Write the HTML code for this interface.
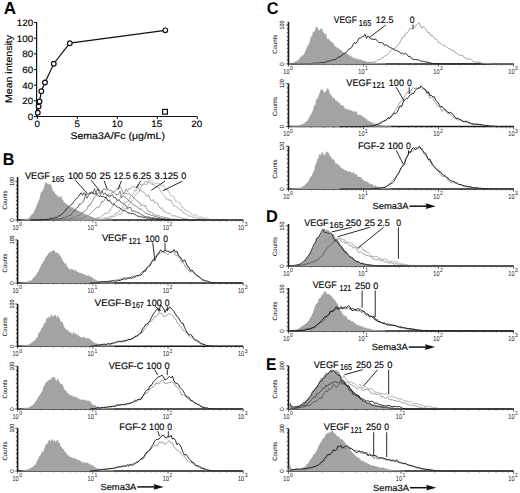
<!DOCTYPE html>
<html><head><meta charset="utf-8"><style>
html,body{margin:0;padding:0;background:#fff;}
svg{display:block;}
text{font-family:"Liberation Sans", sans-serif;text-rendering:geometricPrecision;}
</style></head><body>
<svg width="520" height="493" viewBox="0 0 520 493">
<rect width="520" height="493" fill="#fff"/>
<text x="3.7" y="13.9" font-size="17.3" font-weight="bold" fill="#000" textLength="12.3" lengthAdjust="spacingAndGlyphs">A</text>
<line x1="36.6" y1="22" x2="36.6" y2="117.1" stroke="#111" stroke-width="1.2"/>
<line x1="36" y1="116.5" x2="197.2" y2="116.5" stroke="#111" stroke-width="1.2"/>
<line x1="34" y1="116.5" x2="36.6" y2="116.5" stroke="#111" stroke-width="1.1"/>
<text x="33.2" y="120" font-size="9.3" stroke="#111" stroke-width="0.16" text-anchor="end" textLength="5.45" lengthAdjust="spacingAndGlyphs">0</text>
<line x1="34" y1="100.83" x2="36.6" y2="100.83" stroke="#111" stroke-width="1.1"/>
<text x="33.2" y="104.33" font-size="9.3" stroke="#111" stroke-width="0.16" text-anchor="end" textLength="10.9" lengthAdjust="spacingAndGlyphs">20</text>
<line x1="34" y1="85.17" x2="36.6" y2="85.17" stroke="#111" stroke-width="1.1"/>
<text x="33.2" y="88.67" font-size="9.3" stroke="#111" stroke-width="0.16" text-anchor="end" textLength="10.9" lengthAdjust="spacingAndGlyphs">40</text>
<line x1="34" y1="69.5" x2="36.6" y2="69.5" stroke="#111" stroke-width="1.1"/>
<text x="33.2" y="73" font-size="9.3" stroke="#111" stroke-width="0.16" text-anchor="end" textLength="10.9" lengthAdjust="spacingAndGlyphs">60</text>
<line x1="34" y1="53.84" x2="36.6" y2="53.84" stroke="#111" stroke-width="1.1"/>
<text x="33.2" y="57.34" font-size="9.3" stroke="#111" stroke-width="0.16" text-anchor="end" textLength="10.9" lengthAdjust="spacingAndGlyphs">80</text>
<line x1="34" y1="38.17" x2="36.6" y2="38.17" stroke="#111" stroke-width="1.1"/>
<text x="33.2" y="41.67" font-size="9.3" stroke="#111" stroke-width="0.16" text-anchor="end" textLength="16.35" lengthAdjust="spacingAndGlyphs">100</text>
<line x1="34" y1="22.5" x2="36.6" y2="22.5" stroke="#111" stroke-width="1.1"/>
<text x="33.2" y="26" font-size="9.3" stroke="#111" stroke-width="0.16" text-anchor="end" textLength="16.35" lengthAdjust="spacingAndGlyphs">120</text>
<line x1="37.3" y1="116.5" x2="37.3" y2="118.9" stroke="#111" stroke-width="1.1"/>
<text x="37.3" y="127.4" font-size="9.3" stroke="#111" stroke-width="0.16" text-anchor="middle" textLength="5.45" lengthAdjust="spacingAndGlyphs">0</text>
<line x1="77.3" y1="116.5" x2="77.3" y2="118.9" stroke="#111" stroke-width="1.1"/>
<text x="77.3" y="127.4" font-size="9.3" stroke="#111" stroke-width="0.16" text-anchor="middle" textLength="5.45" lengthAdjust="spacingAndGlyphs">5</text>
<line x1="117.3" y1="116.5" x2="117.3" y2="118.9" stroke="#111" stroke-width="1.1"/>
<text x="117.3" y="127.4" font-size="9.3" stroke="#111" stroke-width="0.16" text-anchor="middle" textLength="10.9" lengthAdjust="spacingAndGlyphs">10</text>
<line x1="157.3" y1="116.5" x2="157.3" y2="118.9" stroke="#111" stroke-width="1.1"/>
<text x="156.8" y="127.4" font-size="9.3" stroke="#111" stroke-width="0.16" text-anchor="middle" textLength="10.9" lengthAdjust="spacingAndGlyphs">15</text>
<line x1="197.3" y1="116.5" x2="197.3" y2="118.9" stroke="#111" stroke-width="1.1"/>
<text x="196.8" y="127.4" font-size="9.3" stroke="#111" stroke-width="0.16" text-anchor="middle" textLength="10.9" lengthAdjust="spacingAndGlyphs">20</text>
<text x="12.2" y="69" font-size="9.5" stroke="#111" stroke-width="0.16" text-anchor="middle" textLength="68" lengthAdjust="spacingAndGlyphs" transform="rotate(-90 12.2 69)">Mean intensity</text>
<text x="70.4" y="138.8" font-size="9.6" stroke="#111" stroke-width="0.16" textLength="94.6" lengthAdjust="spacingAndGlyphs">Sema3A/Fc (&#956;g/mL)</text>
<polyline points="37.78,112.82 38.58,106.4 39.54,101.38 41.3,91.2 44.98,82.5 53.78,63.71 69.78,43.18 165.3,30.34" fill="none" stroke="#111" stroke-width="1.2"/>
<circle cx="37.78" cy="112.82" r="2.35" fill="#fff" stroke="#111" stroke-width="1.2"/>
<circle cx="38.58" cy="106.4" r="2.35" fill="#fff" stroke="#111" stroke-width="1.2"/>
<circle cx="39.54" cy="101.38" r="2.35" fill="#fff" stroke="#111" stroke-width="1.2"/>
<circle cx="41.3" cy="91.2" r="2.35" fill="#fff" stroke="#111" stroke-width="1.2"/>
<circle cx="44.98" cy="82.5" r="2.35" fill="#fff" stroke="#111" stroke-width="1.2"/>
<circle cx="53.78" cy="63.71" r="2.35" fill="#fff" stroke="#111" stroke-width="1.2"/>
<circle cx="69.78" cy="43.18" r="2.35" fill="#fff" stroke="#111" stroke-width="1.2"/>
<circle cx="165.3" cy="30.34" r="2.35" fill="#fff" stroke="#111" stroke-width="1.2"/>
<rect x="162.6" y="109.4" width="4.8" height="4.8" fill="#fff" stroke="#111" stroke-width="1.2"/>
<text x="2.8" y="164.6" font-size="17" font-weight="bold" fill="#000" textLength="11.6" lengthAdjust="spacingAndGlyphs">B</text>
<line x1="17.6" y1="177.1" x2="17.6" y2="220.6" stroke="#1a1a1a" stroke-width="1.6"/>
<line x1="15.2" y1="220" x2="17.6" y2="220" stroke="#222" stroke-width="0.8"/>
<line x1="15.9" y1="216.14" x2="17.6" y2="216.14" stroke="#222" stroke-width="0.8"/>
<line x1="15.9" y1="212.28" x2="17.6" y2="212.28" stroke="#222" stroke-width="0.8"/>
<line x1="15.9" y1="208.42" x2="17.6" y2="208.42" stroke="#222" stroke-width="0.8"/>
<line x1="15.9" y1="204.56" x2="17.6" y2="204.56" stroke="#222" stroke-width="0.8"/>
<line x1="15.9" y1="200.7" x2="17.6" y2="200.7" stroke="#222" stroke-width="0.8"/>
<line x1="15.9" y1="196.84" x2="17.6" y2="196.84" stroke="#222" stroke-width="0.8"/>
<line x1="15.9" y1="192.98" x2="17.6" y2="192.98" stroke="#222" stroke-width="0.8"/>
<line x1="15.9" y1="189.12" x2="17.6" y2="189.12" stroke="#222" stroke-width="0.8"/>
<line x1="15.9" y1="185.26" x2="17.6" y2="185.26" stroke="#222" stroke-width="0.8"/>
<line x1="15.2" y1="181.4" x2="17.6" y2="181.4" stroke="#222" stroke-width="0.8"/>
<line x1="17" y1="220" x2="243.2" y2="220" stroke="#1a1a1a" stroke-width="1.5"/>
<line x1="17.6" y1="220" x2="17.6" y2="222.6" stroke="#333" stroke-width="0.8"/>
<line x1="40.24" y1="220" x2="40.24" y2="221.6" stroke="#444" stroke-width="0.6"/>
<line x1="53.48" y1="220" x2="53.48" y2="221.6" stroke="#444" stroke-width="0.6"/>
<line x1="62.87" y1="220" x2="62.87" y2="221.6" stroke="#444" stroke-width="0.6"/>
<line x1="70.16" y1="220" x2="70.16" y2="221.6" stroke="#444" stroke-width="0.6"/>
<line x1="76.12" y1="220" x2="76.12" y2="221.6" stroke="#444" stroke-width="0.6"/>
<line x1="81.15" y1="220" x2="81.15" y2="221.6" stroke="#444" stroke-width="0.6"/>
<line x1="85.51" y1="220" x2="85.51" y2="221.6" stroke="#444" stroke-width="0.6"/>
<line x1="89.36" y1="220" x2="89.36" y2="221.6" stroke="#444" stroke-width="0.6"/>
<line x1="92.8" y1="220" x2="92.8" y2="222.6" stroke="#333" stroke-width="0.8"/>
<line x1="115.44" y1="220" x2="115.44" y2="221.6" stroke="#444" stroke-width="0.6"/>
<line x1="128.68" y1="220" x2="128.68" y2="221.6" stroke="#444" stroke-width="0.6"/>
<line x1="138.07" y1="220" x2="138.07" y2="221.6" stroke="#444" stroke-width="0.6"/>
<line x1="145.36" y1="220" x2="145.36" y2="221.6" stroke="#444" stroke-width="0.6"/>
<line x1="151.32" y1="220" x2="151.32" y2="221.6" stroke="#444" stroke-width="0.6"/>
<line x1="156.35" y1="220" x2="156.35" y2="221.6" stroke="#444" stroke-width="0.6"/>
<line x1="160.71" y1="220" x2="160.71" y2="221.6" stroke="#444" stroke-width="0.6"/>
<line x1="164.56" y1="220" x2="164.56" y2="221.6" stroke="#444" stroke-width="0.6"/>
<line x1="168" y1="220" x2="168" y2="222.6" stroke="#333" stroke-width="0.8"/>
<line x1="190.64" y1="220" x2="190.64" y2="221.6" stroke="#444" stroke-width="0.6"/>
<line x1="203.88" y1="220" x2="203.88" y2="221.6" stroke="#444" stroke-width="0.6"/>
<line x1="213.27" y1="220" x2="213.27" y2="221.6" stroke="#444" stroke-width="0.6"/>
<line x1="220.56" y1="220" x2="220.56" y2="221.6" stroke="#444" stroke-width="0.6"/>
<line x1="226.52" y1="220" x2="226.52" y2="221.6" stroke="#444" stroke-width="0.6"/>
<line x1="231.55" y1="220" x2="231.55" y2="221.6" stroke="#444" stroke-width="0.6"/>
<line x1="235.91" y1="220" x2="235.91" y2="221.6" stroke="#444" stroke-width="0.6"/>
<line x1="239.76" y1="220" x2="239.76" y2="221.6" stroke="#444" stroke-width="0.6"/>
<line x1="243.2" y1="220" x2="243.2" y2="222.6" stroke="#333" stroke-width="0.8"/>
<text x="12.4" y="229.7" font-size="7.2" fill="#222" textLength="6.2" lengthAdjust="spacingAndGlyphs">10</text>
<text x="19.2" y="226.2" font-size="6.2" fill="#222" textLength="2.8" lengthAdjust="spacingAndGlyphs">0</text>
<text x="87.6" y="229.7" font-size="7.2" fill="#222" textLength="6.2" lengthAdjust="spacingAndGlyphs">10</text>
<text x="94.4" y="226.2" font-size="6.2" fill="#222" textLength="2.8" lengthAdjust="spacingAndGlyphs">1</text>
<text x="162.8" y="229.7" font-size="7.2" fill="#222" textLength="6.2" lengthAdjust="spacingAndGlyphs">10</text>
<text x="169.6" y="226.2" font-size="6.2" fill="#222" textLength="2.8" lengthAdjust="spacingAndGlyphs">2</text>
<text x="238" y="229.7" font-size="7.2" fill="#222" textLength="6.2" lengthAdjust="spacingAndGlyphs">10</text>
<text x="244.8" y="226.2" font-size="6.2" fill="#222" textLength="2.8" lengthAdjust="spacingAndGlyphs">3</text>
<text x="13.9" y="220" font-size="6.2" text-anchor="middle" transform="rotate(-90 13.9 220)">0</text>
<text x="13.9" y="181.4" font-size="6.2" text-anchor="middle" textLength="8.8" lengthAdjust="spacingAndGlyphs" transform="rotate(-90 13.9 181.4)">100</text>
<text x="7.2" y="200.05" font-size="6.3" text-anchor="middle" textLength="19" lengthAdjust="spacingAndGlyphs" transform="rotate(-90 7.2 200.05)">Counts</text>
<polygon points="22,220 22,220 23,220 24,220 25,219.79 26,219.27 27,218.78 28,218.61 29,218.2 30,217 31,215.78 32,214.35 33,213.99 34,212.5 35,209.64 36,207.81 37,204.86 38,202.57 39,200.55 40,197.83 41,192.52 42,192.44 43,190.27 44,188.19 45,184.17 46,182.21 47,183.52 48,184.57 49,184.46 50,184.25 51,185.07 52,188.16 53,192.13 54,191.02 55,194.23 56,194.13 57,196.34 58,195.97 59,197.55 60,197.58 61,195.92 62,199.75 63,200.11 64,202.89 65,203.12 66,203.37 67,204.74 68,205.13 69,205.98 70,207.33 71,206.88 72,208.31 73,207.17 74,209.18 75,209.01 76,209.95 77,209.95 78,211.33 79,210.98 80,212.07 81,211.86 82,212.67 83,213.37 84,214.24 85,214.01 86,214.6 87,214.59 88,215.82 89,215.89 90,216.3 91,216.74 92,217.1 93,217.43 94,217.96 95,218.35 96,218.47 97,218.51 98,218.57 99,218.88 100,219.03 101,219.2 102,219.32 103,219.48 104,219.49 105,219.47 106,219.75 107,219.85 108,219.72 109,219.91 110,220 111,220 112,220 112,220" fill="#a3a3a3" stroke="#a3a3a3" stroke-width="0.4"/>
<polyline points="30,220 31.5,220 33,220 34.5,220 36,220 37.5,220 39,220 40.5,220 42,220 43.5,220 45,220 46.5,220 48,220 49.5,220 51,220 52.5,220 54,220 55.5,220 57,220 58.5,220 60,220 61.5,220 63,220 64.5,220 66,220 67.5,220 69,220 70.5,220 72,220 73.5,220 75,220 76.5,220 78,220 79.5,220 81,219.99 82.5,219.99 84,219.99 85.5,219.98 87,219.97 88.5,219.96 90,219.91 91.5,219.87 93,219.89 94.5,220 96,219.84 97.5,219.9 99,219.64 100.5,219.79 102,219.31 103.5,219.22 105,218.63 106.5,218.73 108,218.38 109.5,218.38 111,218.1 112.5,216.73 114,216.71 115.5,215.81 117,215.13 118.5,213.89 120,214.54 121.5,213.49 123,210.43 124.5,207.48 126,209.66 127.5,206.88 129,204.14 130.5,203.04 132,200.82 133.5,198.91 135,195.12 136.5,194.22 138,191.96 139.5,191.99 141,187.41 142.5,184.02 144,184.15 145.5,184.32 147,184.73 148.5,181.08 150,180.6 151.5,181.58 153,184.95 154.5,182.63 156,183.62 157.5,183.86 159,182.82 160.5,185.84 162,185.67 163.5,184.54 165,189.09 166.5,189.5 168,190.04 169.5,193.44 171,196.26 172.5,195.57 174,196.49 175.5,201.38 177,201.29 178.5,203.07 180,202.7 181.5,207.18 183,207.22 184.5,209.66 186,210.43 187.5,210.73 189,212.09 190.5,212.93 192,214.21 193.5,215.52 195,214.74 196.5,215.13 198,216.52 199.5,217.19 201,216.92 202.5,217.68 204,218.13 205.5,218.22 207,219.03 208.5,219.21 210,219.14 211.5,219.57 213,219.44 214.5,219.51 216,219.55 217.5,219.64 219,219.95 220.5,219.84 222,219.82 223.5,219.8 225,219.84 226.5,219.95 228,219.96 229.5,220" fill="none" stroke="#ababab" stroke-width="0.8" stroke-linejoin="round"/>
<polyline points="30,220 31.5,220 33,220 34.5,220 36,220 37.5,220 39,220 40.5,220 42,220 43.5,220 45,220 46.5,220 48,220 49.5,220 51,220 52.5,220 54,220 55.5,220 57,220 58.5,220 60,220 61.5,220 63,220 64.5,220 66,220 67.5,220 69,220 70.5,220 72,220 73.5,220 75,220 76.5,220 78,220 79.5,219.99 81,219.99 82.5,219.99 84,219.98 85.5,219.97 87,219.96 88.5,219.98 90,219.94 91.5,219.7 93,219.9 94.5,219.96 96,219.68 97.5,219.6 99,219.38 100.5,219.43 102,218.81 103.5,218.75 105,217.84 106.5,218.04 108,217.69 109.5,216.65 111,216.2 112.5,216.25 114,214.52 115.5,214.39 117,211.99 118.5,211.96 120,209.81 121.5,209.2 123,206.5 124.5,203.6 126,201.82 127.5,201.73 129,200.51 130.5,195.96 132,195.62 133.5,193.73 135,189.81 136.5,190.7 138,186.14 139.5,184.28 141,184.69 142.5,185.2 144,183.6 145.5,180.74 147,182.71 148.5,181.28 150,183.55 151.5,184.01 153,184.67 154.5,185.68 156,186.48 157.5,186.89 159,187.73 160.5,191.02 162,193.57 163.5,194.7 165,196.59 166.5,199.49 168,198.6 169.5,201.07 171,199.77 172.5,203.88 174,206.18 175.5,205.81 177,207.54 178.5,208.07 180,209.88 181.5,209.69 183,212.64 184.5,212.93 186,214.23 187.5,215.02 189,216.34 190.5,215.76 192,217.4 193.5,216.96 195,217.38 196.5,217.79 198,218.8 199.5,218.3 201,218.99 202.5,218.9 204,219.26 205.5,218.92 207,219.56 208.5,219.59 210,219.6 211.5,219.91 213,219.83 214.5,219.84 216,219.83 217.5,219.92 219,219.77 220.5,219.8 222,219.87 223.5,219.96 225,219.97 226.5,219.98 228,219.98 229.5,219.98" fill="none" stroke="#9e9e9e" stroke-width="0.8" stroke-linejoin="round"/>
<polyline points="30,220 31.5,220 33,220 34.5,220 36,220 37.5,220 39,220 40.5,220 42,220 43.5,220 45,220 46.5,220 48,220 49.5,220 51,220 52.5,220 54,220 55.5,220 57,220 58.5,220 60,220 61.5,220 63,220 64.5,220 66,220 67.5,220 69,220 70.5,219.99 72,219.99 73.5,219.99 75,219.98 76.5,219.97 78,219.96 79.5,219.89 81,219.84 82.5,219.82 84,219.7 85.5,219.87 87,219.79 88.5,219.75 90,219.62 91.5,219.03 93,218.98 94.5,219.02 96,218.69 97.5,217.57 99,217.92 100.5,217.07 102,215.85 103.5,214.53 105,213.42 106.5,213.4 108,212.69 109.5,211.19 111,208.39 112.5,206.83 114,204.03 115.5,202.41 117,200.12 118.5,200.48 120,198.64 121.5,195.39 123,193.01 124.5,192.9 126,188.59 127.5,191.45 129,188.3 130.5,188.75 132,186.46 133.5,186.37 135,187.64 136.5,186.97 138,186.18 139.5,189.71 141,190.63 142.5,191.9 144,192.15 145.5,194.2 147,196.51 148.5,194.75 150,198.54 151.5,201.27 153,199.47 154.5,202.92 156,202.49 157.5,203.39 159,206.88 160.5,208.33 162,207.57 163.5,211.14 165,211.82 166.5,212.52 168,213.44 169.5,213 171,214.69 172.5,216.34 174,215.25 175.5,216.28 177,217.16 178.5,216.81 180,217.6 181.5,218.01 183,218.75 184.5,218.81 186,218.63 187.5,219.05 189,219.4 190.5,219.73 192,219.5 193.5,219.63 195,219.6 196.5,219.7 198,219.74 199.5,219.86 201,219.87 202.5,219.95 204,219.92 205.5,219.95 207,219.96 208.5,219.97 210,219.98 211.5,219.99 213,219.99 214.5,219.99 216,219.99 217.5,220 219,220 220.5,220 222,220 223.5,220 225,220 226.5,220 228,220 229.5,220" fill="none" stroke="#909090" stroke-width="0.8" stroke-linejoin="round"/>
<polyline points="30,220 31.5,220 33,220 34.5,220 36,220 37.5,220 39,220 40.5,220 42,220 43.5,220 45,220 46.5,220 48,220 49.5,220 51,220 52.5,220 54,220 55.5,219.99 57,219.99 58.5,219.99 60,219.98 61.5,219.97 63,219.95 64.5,219.86 66,219.92 67.5,219.9 69,219.99 70.5,219.74 72,219.61 73.5,219.62 75,219.46 76.5,219.56 78,218.62 79.5,218.58 81,218.43 82.5,217.64 84,217.19 85.5,216.64 87,216.04 88.5,215.02 90,213.77 91.5,212.36 93,211.02 94.5,209.93 96,207.95 97.5,207.27 99,206.93 100.5,205.16 102,200.84 103.5,201.89 105,199.18 106.5,196.51 108,193.73 109.5,196.26 111,193.86 112.5,192.43 114,191.64 115.5,190.19 117,188.88 118.5,189.23 120,186.37 121.5,188.48 123,193.08 124.5,193.92 126,193 127.5,193.95 129,193.12 130.5,194.81 132,195.75 133.5,197.98 135,198.7 136.5,200.07 138,202.04 139.5,202.48 141,205.81 142.5,204.72 144,206.31 145.5,205.49 147,209.25 148.5,211.51 150,211.77 151.5,212.37 153,213.63 154.5,214.71 156,214.89 157.5,216.12 159,215.36 160.5,217.23 162,216.73 163.5,217.01 165,217.64 166.5,217.66 168,218.3 169.5,218.43 171,219.14 172.5,219.4 174,219.37 175.5,219.35 177,219.32 178.5,219.79 180,219.77 181.5,219.84 183,219.69 184.5,219.89 186,219.76 187.5,219.93 189,219.97 190.5,219.98 192,220 193.5,219.96 195,219.97 196.5,219.98 198,219.98 199.5,219.99 201,219.99 202.5,219.99 204,219.99 205.5,220 207,220 208.5,220 210,220 211.5,220 213,220 214.5,220 216,220 217.5,220 219,220 220.5,220 222,220 223.5,220 225,220 226.5,220 228,220 229.5,220" fill="none" stroke="#808080" stroke-width="0.8" stroke-linejoin="round"/>
<polyline points="30,220 31.5,220 33,220 34.5,220 36,220 37.5,220 39,220 40.5,220 42,220 43.5,220 45,220 46.5,220 48,219.99 49.5,219.99 51,219.99 52.5,219.98 54,219.97 55.5,219.96 57,219.81 58.5,219.94 60,219.87 61.5,219.89 63,219.83 64.5,219.42 66,219.48 67.5,219.35 69,218.83 70.5,218.29 72,218.09 73.5,217.62 75,217.7 76.5,216.17 78,215.51 79.5,215.56 81,214.33 82.5,212.29 84,212.03 85.5,210.52 87,208.88 88.5,205.7 90,205.14 91.5,202.64 93,199.89 94.5,197.22 96,195.43 97.5,194.04 99,192.75 100.5,194.58 102,191.22 103.5,189.03 105,188.94 106.5,190.68 108,189.18 109.5,190.34 111,190.43 112.5,191.41 114,192.82 115.5,194.35 117,194.76 118.5,194.34 120,191.06 121.5,197.79 123,196.02 124.5,196.4 126,197.7 127.5,199.64 129,200.65 130.5,201.69 132,203.62 133.5,204.73 135,205.47 136.5,206.51 138,207.41 139.5,209.26 141,208.63 142.5,210.09 144,211.65 145.5,213.23 147,213.81 148.5,213.97 150,214.51 151.5,215.5 153,215.14 154.5,216.75 156,215.96 157.5,217.71 159,217.12 160.5,218.11 162,218.6 163.5,218.37 165,218.6 166.5,218.78 168,218.78 169.5,219.17 171,219.47 172.5,219.33 174,219.26 175.5,219.42 177,219.86 178.5,219.83 180,219.82 181.5,219.85 183,220 184.5,219.95 186,219.99 187.5,220 189,219.82 190.5,219.93 192,219.95 193.5,219.96 195,219.97 196.5,219.98 198,219.98 199.5,219.98 201,219.99 202.5,219.99 204,219.99 205.5,219.99 207,220 208.5,220 210,220 211.5,220 213,220 214.5,220 216,220 217.5,220 219,220 220.5,220 222,220 223.5,220 225,220 226.5,220 228,220 229.5,220" fill="none" stroke="#6a6a6a" stroke-width="0.8" stroke-linejoin="round"/>
<polyline points="30,220 31.5,220 33,220 34.5,220 36,220 37.5,220 39,219.99 40.5,219.99 42,219.98 43.5,219.97 45,219.96 46.5,219.9 48,219.96 49.5,219.83 51,220 52.5,219.85 54,219.45 55.5,219.61 57,219.3 58.5,219.42 60,218.58 61.5,218.35 63,217.8 64.5,217.83 66,216.87 67.5,216.78 69,215.26 70.5,215.66 72,213 73.5,211.58 75,210.85 76.5,207.86 78,207.4 79.5,203.81 81,204.13 82.5,202.59 84,200.05 85.5,194.1 87,198.39 88.5,195.31 90,194 91.5,191.44 93,193.71 94.5,188.51 96,193.55 97.5,188.88 99,191.54 100.5,192.75 102,190.79 103.5,194.52 105,192.89 106.5,195.15 108,195.86 109.5,196.61 111,195.94 112.5,194.58 114,198.1 115.5,196.97 117,200.36 118.5,199.84 120,200.92 121.5,202.97 123,203.05 124.5,204.53 126,205.56 127.5,208.47 129,207.68 130.5,207.32 132,211.28 133.5,210.7 135,211.47 136.5,212.11 138,212.71 139.5,213.24 141,214.65 142.5,214.96 144,215.99 145.5,216.78 147,216.85 148.5,216.9 150,217.33 151.5,217.78 153,218.1 154.5,217.85 156,218.41 157.5,218.56 159,218.16 160.5,219.05 162,219.06 163.5,219.1 165,219.79 166.5,219.57 168,219.54 169.5,219.52 171,219.78 172.5,219.73 174,219.74 175.5,219.76 177,219.9 178.5,219.81 180,219.84 181.5,219.99 183,220 184.5,219.93 186,219.96 187.5,219.96 189,219.97 190.5,219.98 192,219.98 193.5,219.99 195,219.99 196.5,219.99 198,219.99 199.5,219.99 201,220 202.5,220 204,220 205.5,220 207,220 208.5,220 210,220 211.5,220 213,220 214.5,220 216,220 217.5,220 219,220 220.5,220 222,220 223.5,220 225,220 226.5,220 228,220 229.5,220" fill="none" stroke="#4a4a4a" stroke-width="0.8" stroke-linejoin="round"/>
<polyline points="30,219.99 31.5,219.99 33,219.98 34.5,219.97 36,219.95 37.5,219.97 39,220 40.5,219.64 42,219.78 43.5,219.71 45,219.68 46.5,219.38 48,219.67 49.5,218.85 51,218.14 52.5,218.68 54,217.73 55.5,217.83 57,217.4 58.5,216.09 60,215.63 61.5,214.49 63,212.96 64.5,211.83 66,209.37 67.5,208.02 69,206.7 70.5,205.13 72,204.21 73.5,202.14 75,200.04 76.5,198.59 78,197.62 79.5,194.9 81,192.76 82.5,195.34 84,192.69 85.5,194.28 87,193.99 88.5,193.78 90,192.95 91.5,193 93,193.21 94.5,194.27 96,193.68 97.5,194.67 99,196.49 100.5,195.97 102,196.65 103.5,196.62 105,197.32 106.5,197.91 108,201.17 109.5,200.2 111,202.8 112.5,204.29 114,203.94 115.5,205.55 117,206.6 118.5,207.81 120,207.91 121.5,209.47 123,210.89 124.5,210.47 126,211.34 127.5,212.69 129,213.03 130.5,213.3 132,213.73 133.5,213.63 135,214.4 136.5,215.43 138,216.37 139.5,216.29 141,217.19 142.5,216.84 144,217.57 145.5,217.3 147,218.43 148.5,217.96 150,218.22 151.5,218.72 153,218.28 154.5,218.98 156,219.13 157.5,219.21 159,219.48 160.5,219.3 162,219.6 163.5,219.44 165,219.54 166.5,219.83 168,219.7 169.5,219.83 171,219.82 172.5,219.84 174,219.84 175.5,219.79 177,219.92 178.5,219.93 180,219.9 181.5,219.95 183,219.96 184.5,219.97 186,219.97 187.5,219.98 189,219.98 190.5,219.98 192,219.99 193.5,219.99 195,219.99 196.5,219.99 198,220 199.5,220 201,220 202.5,220 204,220 205.5,220 207,220 208.5,220 210,220 211.5,220 213,220 214.5,220 216,220 217.5,220 219,220 220.5,220 222,220 223.5,220 225,220 226.5,220 228,220 229.5,220" fill="none" stroke="#111" stroke-width="0.8" stroke-linejoin="round"/>
<text x="24.9" y="178.7" font-size="9.4" stroke="#111" stroke-width="0.16" textLength="25.1" lengthAdjust="spacingAndGlyphs">VEGF</text>
<text x="51.5" y="182.1" font-size="8.6" stroke="#111" stroke-width="0.16" textLength="12.8" lengthAdjust="spacingAndGlyphs">165</text>
<text x="68" y="179" font-size="9.4" stroke="#111" stroke-width="0.16" textLength="15.1" lengthAdjust="spacingAndGlyphs">100</text>
<text x="85.8" y="179" font-size="9.4" stroke="#111" stroke-width="0.16" textLength="10.6" lengthAdjust="spacingAndGlyphs">50</text>
<text x="99.6" y="179" font-size="9.4" stroke="#111" stroke-width="0.16" textLength="11.1" lengthAdjust="spacingAndGlyphs">25</text>
<text x="113.5" y="179" font-size="9.4" stroke="#111" stroke-width="0.16" textLength="17.3" lengthAdjust="spacingAndGlyphs">12.5</text>
<text x="132.7" y="179" font-size="9.4" stroke="#111" stroke-width="0.16" textLength="18.5" lengthAdjust="spacingAndGlyphs">6.25</text>
<text x="154.6" y="179" font-size="9.4" stroke="#111" stroke-width="0.16" textLength="23.8" lengthAdjust="spacingAndGlyphs">3.125</text>
<text x="181.3" y="179" font-size="9.4" stroke="#111" stroke-width="0.16" textLength="5" lengthAdjust="spacingAndGlyphs">0</text>
<line x1="75.4" y1="180.2" x2="86.9" y2="193" stroke="#111" stroke-width="0.9"/>
<line x1="91.1" y1="180.2" x2="100" y2="191.2" stroke="#111" stroke-width="0.9"/>
<line x1="104.2" y1="180.8" x2="107.2" y2="189.2" stroke="#111" stroke-width="0.9"/>
<line x1="121.5" y1="180.8" x2="118" y2="189.2" stroke="#111" stroke-width="0.9"/>
<line x1="140.8" y1="180.8" x2="136.2" y2="188" stroke="#111" stroke-width="0.9"/>
<line x1="165" y1="181.2" x2="151.2" y2="190.4" stroke="#111" stroke-width="0.9"/>
<line x1="182.3" y1="181.2" x2="162.7" y2="190.8" stroke="#111" stroke-width="0.9"/>
<line x1="17.6" y1="239.9" x2="17.6" y2="283.6" stroke="#1a1a1a" stroke-width="1.6"/>
<line x1="15.2" y1="283" x2="17.6" y2="283" stroke="#222" stroke-width="0.8"/>
<line x1="15.9" y1="278.69" x2="17.6" y2="278.69" stroke="#222" stroke-width="0.8"/>
<line x1="15.9" y1="274.38" x2="17.6" y2="274.38" stroke="#222" stroke-width="0.8"/>
<line x1="15.9" y1="270.07" x2="17.6" y2="270.07" stroke="#222" stroke-width="0.8"/>
<line x1="15.9" y1="265.76" x2="17.6" y2="265.76" stroke="#222" stroke-width="0.8"/>
<line x1="15.9" y1="261.45" x2="17.6" y2="261.45" stroke="#222" stroke-width="0.8"/>
<line x1="15.9" y1="257.14" x2="17.6" y2="257.14" stroke="#222" stroke-width="0.8"/>
<line x1="15.9" y1="252.83" x2="17.6" y2="252.83" stroke="#222" stroke-width="0.8"/>
<line x1="15.9" y1="248.52" x2="17.6" y2="248.52" stroke="#222" stroke-width="0.8"/>
<line x1="15.9" y1="244.21" x2="17.6" y2="244.21" stroke="#222" stroke-width="0.8"/>
<line x1="15.2" y1="239.9" x2="17.6" y2="239.9" stroke="#222" stroke-width="0.8"/>
<line x1="17" y1="283" x2="243.2" y2="283" stroke="#1a1a1a" stroke-width="1.5"/>
<line x1="17.6" y1="283" x2="17.6" y2="285.6" stroke="#333" stroke-width="0.8"/>
<line x1="40.24" y1="283" x2="40.24" y2="284.6" stroke="#444" stroke-width="0.6"/>
<line x1="53.48" y1="283" x2="53.48" y2="284.6" stroke="#444" stroke-width="0.6"/>
<line x1="62.87" y1="283" x2="62.87" y2="284.6" stroke="#444" stroke-width="0.6"/>
<line x1="70.16" y1="283" x2="70.16" y2="284.6" stroke="#444" stroke-width="0.6"/>
<line x1="76.12" y1="283" x2="76.12" y2="284.6" stroke="#444" stroke-width="0.6"/>
<line x1="81.15" y1="283" x2="81.15" y2="284.6" stroke="#444" stroke-width="0.6"/>
<line x1="85.51" y1="283" x2="85.51" y2="284.6" stroke="#444" stroke-width="0.6"/>
<line x1="89.36" y1="283" x2="89.36" y2="284.6" stroke="#444" stroke-width="0.6"/>
<line x1="92.8" y1="283" x2="92.8" y2="285.6" stroke="#333" stroke-width="0.8"/>
<line x1="115.44" y1="283" x2="115.44" y2="284.6" stroke="#444" stroke-width="0.6"/>
<line x1="128.68" y1="283" x2="128.68" y2="284.6" stroke="#444" stroke-width="0.6"/>
<line x1="138.07" y1="283" x2="138.07" y2="284.6" stroke="#444" stroke-width="0.6"/>
<line x1="145.36" y1="283" x2="145.36" y2="284.6" stroke="#444" stroke-width="0.6"/>
<line x1="151.32" y1="283" x2="151.32" y2="284.6" stroke="#444" stroke-width="0.6"/>
<line x1="156.35" y1="283" x2="156.35" y2="284.6" stroke="#444" stroke-width="0.6"/>
<line x1="160.71" y1="283" x2="160.71" y2="284.6" stroke="#444" stroke-width="0.6"/>
<line x1="164.56" y1="283" x2="164.56" y2="284.6" stroke="#444" stroke-width="0.6"/>
<line x1="168" y1="283" x2="168" y2="285.6" stroke="#333" stroke-width="0.8"/>
<line x1="190.64" y1="283" x2="190.64" y2="284.6" stroke="#444" stroke-width="0.6"/>
<line x1="203.88" y1="283" x2="203.88" y2="284.6" stroke="#444" stroke-width="0.6"/>
<line x1="213.27" y1="283" x2="213.27" y2="284.6" stroke="#444" stroke-width="0.6"/>
<line x1="220.56" y1="283" x2="220.56" y2="284.6" stroke="#444" stroke-width="0.6"/>
<line x1="226.52" y1="283" x2="226.52" y2="284.6" stroke="#444" stroke-width="0.6"/>
<line x1="231.55" y1="283" x2="231.55" y2="284.6" stroke="#444" stroke-width="0.6"/>
<line x1="235.91" y1="283" x2="235.91" y2="284.6" stroke="#444" stroke-width="0.6"/>
<line x1="239.76" y1="283" x2="239.76" y2="284.6" stroke="#444" stroke-width="0.6"/>
<line x1="243.2" y1="283" x2="243.2" y2="285.6" stroke="#333" stroke-width="0.8"/>
<text x="12.4" y="292.7" font-size="7.2" fill="#222" textLength="6.2" lengthAdjust="spacingAndGlyphs">10</text>
<text x="19.2" y="289.2" font-size="6.2" fill="#222" textLength="2.8" lengthAdjust="spacingAndGlyphs">0</text>
<text x="87.6" y="292.7" font-size="7.2" fill="#222" textLength="6.2" lengthAdjust="spacingAndGlyphs">10</text>
<text x="94.4" y="289.2" font-size="6.2" fill="#222" textLength="2.8" lengthAdjust="spacingAndGlyphs">1</text>
<text x="162.8" y="292.7" font-size="7.2" fill="#222" textLength="6.2" lengthAdjust="spacingAndGlyphs">10</text>
<text x="169.6" y="289.2" font-size="6.2" fill="#222" textLength="2.8" lengthAdjust="spacingAndGlyphs">2</text>
<text x="238" y="292.7" font-size="7.2" fill="#222" textLength="6.2" lengthAdjust="spacingAndGlyphs">10</text>
<text x="244.8" y="289.2" font-size="6.2" fill="#222" textLength="2.8" lengthAdjust="spacingAndGlyphs">3</text>
<text x="13.9" y="283" font-size="6.2" text-anchor="middle" transform="rotate(-90 13.9 283)">0</text>
<text x="13.9" y="239.9" font-size="6.2" text-anchor="middle" textLength="8.8" lengthAdjust="spacingAndGlyphs" transform="rotate(-90 13.9 239.9)">100</text>
<text x="7.2" y="262.95" font-size="6.3" text-anchor="middle" textLength="19" lengthAdjust="spacingAndGlyphs" transform="rotate(-90 7.2 262.95)">Counts</text>
<polygon points="21.6,283 21.6,283 22.6,283 23.6,282.74 24.6,282.44 25.6,282.45 26.6,282.22 27.6,281.7 28.6,281.03 29.6,280.92 30.6,280.87 31.6,280.15 32.6,279.07 33.6,277.64 34.6,276.89 35.6,275.85 36.6,274.36 37.6,272.51 38.6,271.31 39.6,269.06 40.6,267.12 41.6,264.24 42.6,263.62 43.6,260.91 44.6,260.8 45.6,257.41 46.6,256.2 47.6,255.23 48.6,253.59 49.6,252.02 50.6,252.81 51.6,251.31 52.6,250.7 53.6,250.56 54.6,250.61 55.6,253.59 56.6,252.18 57.6,253.82 58.6,253.34 59.6,255.47 60.6,256.64 61.6,258.03 62.6,260.76 63.6,262 64.6,264.24 65.6,263.28 66.6,266.27 67.6,266.9 68.6,269 69.6,269.52 70.6,269.66 71.6,269.03 72.6,269.41 73.6,270.02 74.6,270.89 75.6,269.63 76.6,271.78 77.6,272.13 78.6,271.9 79.6,273.36 80.6,273.21 81.6,273.31 82.6,274.19 83.6,274.15 84.6,274.49 85.6,274.99 86.6,276.41 87.6,275.59 88.6,275.27 89.6,276.59 90.6,276.8 91.6,277.27 92.6,277.64 93.6,279.34 94.6,279.54 95.6,279.77 96.6,280.14 97.6,281.08 98.6,280.59 99.6,281.52 100.6,281.33 101.6,281.8 102.6,281.87 103.6,281.83 104.6,282.14 105.6,282.37 106.6,282.63 107.6,282.68 108.6,282.84 109.6,282.61 110.6,282.96 111.6,283 112.6,283 113.6,283 114.6,283 114.6,283" fill="#a3a3a3" stroke="#a3a3a3" stroke-width="0.4"/>
<polyline points="90,283 91.5,283 93,283 94.5,283 96,282.68 97.5,282.76 99,282.33 100.5,282.22 102,282.15 103.5,281.93 105,281.79 106.5,281.59 108,281.36 109.5,281.07 111,281.15 112.5,280.68 114,280.48 115.5,280.08 117,279.64 118.5,279.43 120,279.31 121.5,278.37 123,278.17 124.5,277.72 126,277.5 127.5,278.05 129,277.58 130.5,277.57 132,276.19 133.5,276.37 135,275.7 136.5,275.68 138,275.25 139.5,274.13 141,273.01 142.5,271.65 144,271.85 145.5,268.91 147,268.16 148.5,266.14 150,264.09 151.5,262.3 153,259.65 154.5,257.49 156,256.36 157.5,255.9 159,253.8 160.5,253.03 162,251.7 163.5,251.37 165,252.98 166.5,253.55 168,254.73 169.5,252.53 171,252.55 172.5,251.05 174,252.45 175.5,255.22 177,255.15 178.5,256.45 180,258.66 181.5,262.4 183,262.41 184.5,265.16 186,268.18 187.5,268.48 189,271.09 190.5,271.98 192,271.49 193.5,272.19 195,274.33 196.5,275.86 198,276.19 199.5,277.98 201,279.49 202.5,280.84 204,280.33 205.5,281.79 207,282.3 208.5,282.09 210,282.24 211.5,282.64 213,282.57 214.5,282.8 216,282.85 217.5,282.91 219,283 220.5,283 222,283 223.5,283 225,283 226.5,283 228,283 229.5,283 231,283 232.5,283 234,283 235.5,283 237,283 238.5,283 240,283 241.5,283" fill="none" stroke="#8f8f8f" stroke-width="0.85" stroke-linejoin="round"/>
<polyline points="90,283 91.5,283 93,283 94.5,283 96,283 97.5,282.71 99,282.54 100.5,281.64 102,281.94 103.5,281.81 105,281.58 106.5,281.69 108,281.63 109.5,281.17 111,281.33 112.5,280.8 114,280.93 115.5,281.23 117,280.84 118.5,280.42 120,280.6 121.5,279.6 123,279.44 124.5,278.66 126,279.2 127.5,278.67 129,278.05 130.5,277.74 132,278.36 133.5,276.73 135,277.37 136.5,275.77 138,275.94 139.5,275.31 141,275.08 142.5,273.44 144,270.56 145.5,271.34 147,267.86 148.5,266.17 150,265.83 151.5,262.44 153,260.12 154.5,259.86 156,257.89 157.5,253.84 159,253.09 160.5,249.92 162,251.17 163.5,252.29 165,249.86 166.5,251.25 168,251.05 169.5,251.89 171,252.18 172.5,251.71 174,249.6 175.5,252.11 177,251.37 178.5,255.56 180,256.75 181.5,259.15 183,261.58 184.5,259.71 186,262.74 187.5,266.7 189,267.13 190.5,270.89 192,269.99 193.5,271.59 195,273.92 196.5,275.16 198,275.96 199.5,276.93 201,278.39 202.5,279.56 204,280.13 205.5,280.82 207,280.97 208.5,281.61 210,281.94 211.5,282.61 213,282.61 214.5,282.75 216,282.85 217.5,282.89 219,282.96 220.5,283 222,283 223.5,283 225,283 226.5,283 228,283 229.5,283 231,283 232.5,283 234,283 235.5,283 237,283 238.5,283 240,283 241.5,283" fill="none" stroke="#111" stroke-width="0.9" stroke-linejoin="round"/>
<text x="101.9" y="241.2" font-size="9.4" stroke="#111" stroke-width="0.16" textLength="25.4" lengthAdjust="spacingAndGlyphs">VEGF</text>
<text x="128.5" y="244.1" font-size="8.6" stroke="#111" stroke-width="0.16" textLength="12.3" lengthAdjust="spacingAndGlyphs">121</text>
<text x="145" y="241.5" font-size="9.4" stroke="#111" stroke-width="0.16" textLength="14.6" lengthAdjust="spacingAndGlyphs">100</text>
<text x="163.2" y="241.5" font-size="9.4" stroke="#111" stroke-width="0.16" textLength="4.8" lengthAdjust="spacingAndGlyphs">0</text>
<line x1="152.7" y1="242.6" x2="155" y2="261.1" stroke="#111" stroke-width="0.9"/>
<line x1="165" y1="243" x2="165" y2="251" stroke="#111" stroke-width="0.9"/>
<line x1="17.6" y1="304" x2="17.6" y2="346.9" stroke="#1a1a1a" stroke-width="1.6"/>
<line x1="15.2" y1="346.3" x2="17.6" y2="346.3" stroke="#222" stroke-width="0.8"/>
<line x1="15.9" y1="342.07" x2="17.6" y2="342.07" stroke="#222" stroke-width="0.8"/>
<line x1="15.9" y1="337.84" x2="17.6" y2="337.84" stroke="#222" stroke-width="0.8"/>
<line x1="15.9" y1="333.61" x2="17.6" y2="333.61" stroke="#222" stroke-width="0.8"/>
<line x1="15.9" y1="329.38" x2="17.6" y2="329.38" stroke="#222" stroke-width="0.8"/>
<line x1="15.9" y1="325.15" x2="17.6" y2="325.15" stroke="#222" stroke-width="0.8"/>
<line x1="15.9" y1="320.92" x2="17.6" y2="320.92" stroke="#222" stroke-width="0.8"/>
<line x1="15.9" y1="316.69" x2="17.6" y2="316.69" stroke="#222" stroke-width="0.8"/>
<line x1="15.9" y1="312.46" x2="17.6" y2="312.46" stroke="#222" stroke-width="0.8"/>
<line x1="15.9" y1="308.23" x2="17.6" y2="308.23" stroke="#222" stroke-width="0.8"/>
<line x1="15.2" y1="304" x2="17.6" y2="304" stroke="#222" stroke-width="0.8"/>
<line x1="17" y1="346.3" x2="243.2" y2="346.3" stroke="#1a1a1a" stroke-width="1.5"/>
<line x1="17.6" y1="346.3" x2="17.6" y2="348.9" stroke="#333" stroke-width="0.8"/>
<line x1="40.24" y1="346.3" x2="40.24" y2="347.9" stroke="#444" stroke-width="0.6"/>
<line x1="53.48" y1="346.3" x2="53.48" y2="347.9" stroke="#444" stroke-width="0.6"/>
<line x1="62.87" y1="346.3" x2="62.87" y2="347.9" stroke="#444" stroke-width="0.6"/>
<line x1="70.16" y1="346.3" x2="70.16" y2="347.9" stroke="#444" stroke-width="0.6"/>
<line x1="76.12" y1="346.3" x2="76.12" y2="347.9" stroke="#444" stroke-width="0.6"/>
<line x1="81.15" y1="346.3" x2="81.15" y2="347.9" stroke="#444" stroke-width="0.6"/>
<line x1="85.51" y1="346.3" x2="85.51" y2="347.9" stroke="#444" stroke-width="0.6"/>
<line x1="89.36" y1="346.3" x2="89.36" y2="347.9" stroke="#444" stroke-width="0.6"/>
<line x1="92.8" y1="346.3" x2="92.8" y2="348.9" stroke="#333" stroke-width="0.8"/>
<line x1="115.44" y1="346.3" x2="115.44" y2="347.9" stroke="#444" stroke-width="0.6"/>
<line x1="128.68" y1="346.3" x2="128.68" y2="347.9" stroke="#444" stroke-width="0.6"/>
<line x1="138.07" y1="346.3" x2="138.07" y2="347.9" stroke="#444" stroke-width="0.6"/>
<line x1="145.36" y1="346.3" x2="145.36" y2="347.9" stroke="#444" stroke-width="0.6"/>
<line x1="151.32" y1="346.3" x2="151.32" y2="347.9" stroke="#444" stroke-width="0.6"/>
<line x1="156.35" y1="346.3" x2="156.35" y2="347.9" stroke="#444" stroke-width="0.6"/>
<line x1="160.71" y1="346.3" x2="160.71" y2="347.9" stroke="#444" stroke-width="0.6"/>
<line x1="164.56" y1="346.3" x2="164.56" y2="347.9" stroke="#444" stroke-width="0.6"/>
<line x1="168" y1="346.3" x2="168" y2="348.9" stroke="#333" stroke-width="0.8"/>
<line x1="190.64" y1="346.3" x2="190.64" y2="347.9" stroke="#444" stroke-width="0.6"/>
<line x1="203.88" y1="346.3" x2="203.88" y2="347.9" stroke="#444" stroke-width="0.6"/>
<line x1="213.27" y1="346.3" x2="213.27" y2="347.9" stroke="#444" stroke-width="0.6"/>
<line x1="220.56" y1="346.3" x2="220.56" y2="347.9" stroke="#444" stroke-width="0.6"/>
<line x1="226.52" y1="346.3" x2="226.52" y2="347.9" stroke="#444" stroke-width="0.6"/>
<line x1="231.55" y1="346.3" x2="231.55" y2="347.9" stroke="#444" stroke-width="0.6"/>
<line x1="235.91" y1="346.3" x2="235.91" y2="347.9" stroke="#444" stroke-width="0.6"/>
<line x1="239.76" y1="346.3" x2="239.76" y2="347.9" stroke="#444" stroke-width="0.6"/>
<line x1="243.2" y1="346.3" x2="243.2" y2="348.9" stroke="#333" stroke-width="0.8"/>
<text x="12.4" y="356" font-size="7.2" fill="#222" textLength="6.2" lengthAdjust="spacingAndGlyphs">10</text>
<text x="19.2" y="352.5" font-size="6.2" fill="#222" textLength="2.8" lengthAdjust="spacingAndGlyphs">0</text>
<text x="87.6" y="356" font-size="7.2" fill="#222" textLength="6.2" lengthAdjust="spacingAndGlyphs">10</text>
<text x="94.4" y="352.5" font-size="6.2" fill="#222" textLength="2.8" lengthAdjust="spacingAndGlyphs">1</text>
<text x="162.8" y="356" font-size="7.2" fill="#222" textLength="6.2" lengthAdjust="spacingAndGlyphs">10</text>
<text x="169.6" y="352.5" font-size="6.2" fill="#222" textLength="2.8" lengthAdjust="spacingAndGlyphs">2</text>
<text x="238" y="356" font-size="7.2" fill="#222" textLength="6.2" lengthAdjust="spacingAndGlyphs">10</text>
<text x="244.8" y="352.5" font-size="6.2" fill="#222" textLength="2.8" lengthAdjust="spacingAndGlyphs">3</text>
<text x="13.9" y="346.3" font-size="6.2" text-anchor="middle" transform="rotate(-90 13.9 346.3)">0</text>
<text x="13.9" y="304" font-size="6.2" text-anchor="middle" textLength="8.8" lengthAdjust="spacingAndGlyphs" transform="rotate(-90 13.9 304)">100</text>
<text x="7.2" y="326.65" font-size="6.3" text-anchor="middle" textLength="19" lengthAdjust="spacingAndGlyphs" transform="rotate(-90 7.2 326.65)">Counts</text>
<polygon points="21.6,346.3 21.6,346.3 22.6,346.3 23.6,346.07 24.6,345.9 25.6,345.83 26.6,345.23 27.6,345.03 28.6,344.67 29.6,344.31 30.6,343.43 31.6,342.96 32.6,341.96 33.6,341.55 34.6,340.52 35.6,339.65 36.6,337.86 37.6,337.78 38.6,333.31 39.6,332.54 40.6,330.86 41.6,328.42 42.6,327.58 43.6,325.22 44.6,322.97 45.6,323.47 46.6,318.47 47.6,318.44 48.6,316.81 49.6,317.89 50.6,317.06 51.6,314.43 52.6,316.69 53.6,316.52 54.6,315.61 55.6,314.72 56.6,319.01 57.6,315.5 58.6,317.84 59.6,318.48 60.6,321.67 61.6,321.93 62.6,322.53 63.6,325.89 64.6,327.89 65.6,328.89 66.6,330 67.6,329.92 68.6,331.23 69.6,332.47 70.6,332.12 71.6,333.9 72.6,334.47 73.6,332.07 74.6,334.47 75.6,333.24 76.6,334.74 77.6,335.29 78.6,335.37 79.6,336.82 80.6,337.36 81.6,337.45 82.6,337.86 83.6,337.43 84.6,336.89 85.6,338.77 86.6,338.74 87.6,338.03 88.6,338.45 89.6,338.67 90.6,340.34 91.6,340.51 92.6,341.59 93.6,342.87 94.6,342.57 95.6,343.75 96.6,343.48 97.6,344.19 98.6,344.45 99.6,344.14 100.6,344.54 101.6,345 102.6,345.19 103.6,345.57 104.6,345.36 105.6,345.6 106.6,345.93 107.6,346.12 108.6,346.01 109.6,346.1 110.6,346.09 111.6,346.28 112.6,346.3 113.6,346.3 114.6,346.3 114.6,346.3" fill="#a3a3a3" stroke="#a3a3a3" stroke-width="0.4"/>
<polyline points="90,346.3 91.5,346.3 93,346.25 94.5,345.99 96,345.61 97.5,345.58 99,345.5 100.5,345.46 102,344.79 103.5,344.91 105,344.92 106.5,344.9 108,345.19 109.5,344.25 111,344.2 112.5,343.4 114,342.22 115.5,342.42 117,341.92 118.5,341.13 120,341.41 121.5,341.02 123,341.43 124.5,341.08 126,341.23 127.5,339.66 129,339.21 130.5,339.71 132,338.97 133.5,338.47 135,335.88 136.5,336.14 138,336.02 139.5,334.44 141,332.66 142.5,332.81 144,329.72 145.5,327.87 147,326.43 148.5,323.72 150,321.42 151.5,320.82 153,319.51 154.5,316.6 156,316.37 157.5,315.23 159,312.61 160.5,313.42 162,313.33 163.5,316.46 165,316.14 166.5,315.41 168,313.9 169.5,313.64 171,314.17 172.5,315.87 174,317.34 175.5,318.76 177,322.2 178.5,324.41 180,326.3 181.5,327.16 183,330.59 184.5,331.15 186,332.52 187.5,333.68 189,336.05 190.5,336.63 192,337.91 193.5,339.41 195,340.16 196.5,341.31 198,342.68 199.5,343.23 201,344.1 202.5,343.81 204,344.87 205.5,345.33 207,345.77 208.5,345.78 210,345.92 211.5,346.07 213,346.26 214.5,346.28 216,346.3 217.5,346.3 219,346.3 220.5,346.3 222,346.3 223.5,346.3 225,346.3 226.5,346.3 228,346.3 229.5,346.3 231,346.3 232.5,346.3 234,346.3 235.5,346.3 237,346.3 238.5,346.3 240,346.3 241.5,346.3" fill="none" stroke="#8f8f8f" stroke-width="0.85" stroke-linejoin="round"/>
<polyline points="90,346.3 91.5,346.3 93,346.06 94.5,345.78 96,345.66 97.5,344.82 99,345.39 100.5,344.79 102,344.36 103.5,344.28 105,344.14 106.5,344.51 108,343.42 109.5,344.06 111,343.58 112.5,343.26 114,342.94 115.5,342.82 117,341.62 118.5,341.96 120,341.23 121.5,342.14 123,340.79 124.5,340.9 126,340.31 127.5,340.13 129,339.64 130.5,339.43 132,338.66 133.5,337.84 135,336.93 136.5,336.14 138,335.42 139.5,333.6 141,333.08 142.5,328.65 144,327.49 145.5,324.62 147,323.92 148.5,322.82 150,320.77 151.5,317.42 153,314.59 154.5,312.11 156,310.7 157.5,308.41 159,311.4 160.5,304.77 162,306.75 163.5,308.08 165,312.58 166.5,309.07 168,309.84 169.5,306.89 171,308.04 172.5,309.57 174,311.66 175.5,314.07 177,316.66 178.5,317.63 180,320.87 181.5,323.01 183,323.11 184.5,327.42 186,330.26 187.5,333.18 189,334.96 190.5,334.58 192,335.59 193.5,338.27 195,339.6 196.5,340.28 198,341.31 199.5,342.05 201,343.34 202.5,344.17 204,344.32 205.5,345.2 207,345.65 208.5,345.86 210,345.94 211.5,346.08 213,346.13 214.5,346.21 216,346.3 217.5,346.3 219,346.3 220.5,346.3 222,346.3 223.5,346.3 225,346.3 226.5,346.3 228,346.3 229.5,346.3 231,346.3 232.5,346.3 234,346.3 235.5,346.3 237,346.3 238.5,346.3 240,346.3 241.5,346.3" fill="none" stroke="#111" stroke-width="0.9" stroke-linejoin="round"/>
<text x="94.6" y="305.5" font-size="9.4" stroke="#111" stroke-width="0.16" textLength="36.6" lengthAdjust="spacingAndGlyphs">VEGF-B</text>
<text x="132.1" y="307.9" font-size="8.6" stroke="#111" stroke-width="0.16" textLength="11.6" lengthAdjust="spacingAndGlyphs">167</text>
<text x="146.5" y="305.8" font-size="9.4" stroke="#111" stroke-width="0.16" textLength="15.4" lengthAdjust="spacingAndGlyphs">100</text>
<text x="164.8" y="305.8" font-size="9.4" stroke="#111" stroke-width="0.16" textLength="4.8" lengthAdjust="spacingAndGlyphs">0</text>
<line x1="155.2" y1="306.5" x2="161" y2="310.5" stroke="#111" stroke-width="0.9"/>
<line x1="167.3" y1="306.5" x2="167.3" y2="311.2" stroke="#111" stroke-width="0.9"/>
<line x1="17.6" y1="366.2" x2="17.6" y2="409.5" stroke="#1a1a1a" stroke-width="1.6"/>
<line x1="15.2" y1="408.9" x2="17.6" y2="408.9" stroke="#222" stroke-width="0.8"/>
<line x1="15.9" y1="404.63" x2="17.6" y2="404.63" stroke="#222" stroke-width="0.8"/>
<line x1="15.9" y1="400.36" x2="17.6" y2="400.36" stroke="#222" stroke-width="0.8"/>
<line x1="15.9" y1="396.09" x2="17.6" y2="396.09" stroke="#222" stroke-width="0.8"/>
<line x1="15.9" y1="391.82" x2="17.6" y2="391.82" stroke="#222" stroke-width="0.8"/>
<line x1="15.9" y1="387.55" x2="17.6" y2="387.55" stroke="#222" stroke-width="0.8"/>
<line x1="15.9" y1="383.28" x2="17.6" y2="383.28" stroke="#222" stroke-width="0.8"/>
<line x1="15.9" y1="379.01" x2="17.6" y2="379.01" stroke="#222" stroke-width="0.8"/>
<line x1="15.9" y1="374.74" x2="17.6" y2="374.74" stroke="#222" stroke-width="0.8"/>
<line x1="15.9" y1="370.47" x2="17.6" y2="370.47" stroke="#222" stroke-width="0.8"/>
<line x1="15.2" y1="366.2" x2="17.6" y2="366.2" stroke="#222" stroke-width="0.8"/>
<line x1="17" y1="408.9" x2="243.2" y2="408.9" stroke="#1a1a1a" stroke-width="1.5"/>
<line x1="17.6" y1="408.9" x2="17.6" y2="411.5" stroke="#333" stroke-width="0.8"/>
<line x1="40.24" y1="408.9" x2="40.24" y2="410.5" stroke="#444" stroke-width="0.6"/>
<line x1="53.48" y1="408.9" x2="53.48" y2="410.5" stroke="#444" stroke-width="0.6"/>
<line x1="62.87" y1="408.9" x2="62.87" y2="410.5" stroke="#444" stroke-width="0.6"/>
<line x1="70.16" y1="408.9" x2="70.16" y2="410.5" stroke="#444" stroke-width="0.6"/>
<line x1="76.12" y1="408.9" x2="76.12" y2="410.5" stroke="#444" stroke-width="0.6"/>
<line x1="81.15" y1="408.9" x2="81.15" y2="410.5" stroke="#444" stroke-width="0.6"/>
<line x1="85.51" y1="408.9" x2="85.51" y2="410.5" stroke="#444" stroke-width="0.6"/>
<line x1="89.36" y1="408.9" x2="89.36" y2="410.5" stroke="#444" stroke-width="0.6"/>
<line x1="92.8" y1="408.9" x2="92.8" y2="411.5" stroke="#333" stroke-width="0.8"/>
<line x1="115.44" y1="408.9" x2="115.44" y2="410.5" stroke="#444" stroke-width="0.6"/>
<line x1="128.68" y1="408.9" x2="128.68" y2="410.5" stroke="#444" stroke-width="0.6"/>
<line x1="138.07" y1="408.9" x2="138.07" y2="410.5" stroke="#444" stroke-width="0.6"/>
<line x1="145.36" y1="408.9" x2="145.36" y2="410.5" stroke="#444" stroke-width="0.6"/>
<line x1="151.32" y1="408.9" x2="151.32" y2="410.5" stroke="#444" stroke-width="0.6"/>
<line x1="156.35" y1="408.9" x2="156.35" y2="410.5" stroke="#444" stroke-width="0.6"/>
<line x1="160.71" y1="408.9" x2="160.71" y2="410.5" stroke="#444" stroke-width="0.6"/>
<line x1="164.56" y1="408.9" x2="164.56" y2="410.5" stroke="#444" stroke-width="0.6"/>
<line x1="168" y1="408.9" x2="168" y2="411.5" stroke="#333" stroke-width="0.8"/>
<line x1="190.64" y1="408.9" x2="190.64" y2="410.5" stroke="#444" stroke-width="0.6"/>
<line x1="203.88" y1="408.9" x2="203.88" y2="410.5" stroke="#444" stroke-width="0.6"/>
<line x1="213.27" y1="408.9" x2="213.27" y2="410.5" stroke="#444" stroke-width="0.6"/>
<line x1="220.56" y1="408.9" x2="220.56" y2="410.5" stroke="#444" stroke-width="0.6"/>
<line x1="226.52" y1="408.9" x2="226.52" y2="410.5" stroke="#444" stroke-width="0.6"/>
<line x1="231.55" y1="408.9" x2="231.55" y2="410.5" stroke="#444" stroke-width="0.6"/>
<line x1="235.91" y1="408.9" x2="235.91" y2="410.5" stroke="#444" stroke-width="0.6"/>
<line x1="239.76" y1="408.9" x2="239.76" y2="410.5" stroke="#444" stroke-width="0.6"/>
<line x1="243.2" y1="408.9" x2="243.2" y2="411.5" stroke="#333" stroke-width="0.8"/>
<text x="12.4" y="418.6" font-size="7.2" fill="#222" textLength="6.2" lengthAdjust="spacingAndGlyphs">10</text>
<text x="19.2" y="415.1" font-size="6.2" fill="#222" textLength="2.8" lengthAdjust="spacingAndGlyphs">0</text>
<text x="87.6" y="418.6" font-size="7.2" fill="#222" textLength="6.2" lengthAdjust="spacingAndGlyphs">10</text>
<text x="94.4" y="415.1" font-size="6.2" fill="#222" textLength="2.8" lengthAdjust="spacingAndGlyphs">1</text>
<text x="162.8" y="418.6" font-size="7.2" fill="#222" textLength="6.2" lengthAdjust="spacingAndGlyphs">10</text>
<text x="169.6" y="415.1" font-size="6.2" fill="#222" textLength="2.8" lengthAdjust="spacingAndGlyphs">2</text>
<text x="238" y="418.6" font-size="7.2" fill="#222" textLength="6.2" lengthAdjust="spacingAndGlyphs">10</text>
<text x="244.8" y="415.1" font-size="6.2" fill="#222" textLength="2.8" lengthAdjust="spacingAndGlyphs">3</text>
<text x="13.9" y="408.9" font-size="6.2" text-anchor="middle" transform="rotate(-90 13.9 408.9)">0</text>
<text x="13.9" y="366.2" font-size="6.2" text-anchor="middle" textLength="8.8" lengthAdjust="spacingAndGlyphs" transform="rotate(-90 13.9 366.2)">100</text>
<text x="7.2" y="389.05" font-size="6.3" text-anchor="middle" textLength="19" lengthAdjust="spacingAndGlyphs" transform="rotate(-90 7.2 389.05)">Counts</text>
<polygon points="21.6,408.9 21.6,408.9 22.6,408.9 23.6,408.75 24.6,408.44 25.6,408.09 26.6,407.66 27.6,407.97 28.6,407.52 29.6,407.2 30.6,406.59 31.6,405.92 32.6,405.5 33.6,403.92 34.6,403.56 35.6,401.45 36.6,400.81 37.6,398.54 38.6,396.71 39.6,395.33 40.6,393.96 41.6,392.33 42.6,390.8 43.6,386.7 44.6,385.75 45.6,382.83 46.6,382.42 47.6,380.84 48.6,380.65 49.6,379.66 50.6,380.62 51.6,377.8 52.6,377.69 53.6,377.12 54.6,377.19 55.6,379.91 56.6,381.63 57.6,378.86 58.6,380.46 59.6,382.95 60.6,384.15 61.6,384.07 62.6,385 63.6,388.02 64.6,390.53 65.6,390.46 66.6,391.32 67.6,394.04 68.6,393.43 69.6,395.41 70.6,395.27 71.6,395.39 72.6,396.04 73.6,397.38 74.6,396.39 75.6,397.87 76.6,396.84 77.6,398.98 78.6,398.62 79.6,399.19 80.6,399.88 81.6,399.81 82.6,400.1 83.6,399.43 84.6,400.34 85.6,400.11 86.6,401.48 87.6,400.47 88.6,400.87 89.6,401.16 90.6,401.89 91.6,403.79 92.6,404.72 93.6,405.14 94.6,405.57 95.6,405.35 96.6,406.88 97.6,406.64 98.6,406.73 99.6,407.31 100.6,407.82 101.6,407.88 102.6,407.76 103.6,407.9 104.6,408.2 105.6,408.25 106.6,408.23 107.6,408.56 108.6,408.4 109.6,408.77 110.6,408.62 111.6,408.9 112.6,408.9 113.6,408.9 114.6,408.9 114.6,408.9" fill="#a3a3a3" stroke="#a3a3a3" stroke-width="0.4"/>
<polyline points="90,408.9 91.5,408.9 93,408.66 94.5,408.52 96,408.26 97.5,408.01 99,408.16 100.5,408.18 102,407.99 103.5,407.56 105,407.3 106.5,407.42 108,407.69 109.5,406.76 111,407.28 112.5,406.47 114,405.98 115.5,405.17 117,404.44 118.5,405.29 120,404.58 121.5,404.1 123,404.59 124.5,403.9 126,403.58 127.5,404.12 129,403.87 130.5,402.89 132,402.52 133.5,401.73 135,399.98 136.5,400.09 138,399.63 139.5,399.53 141,397.34 142.5,397.17 144,393.88 145.5,392.56 147,393.61 148.5,391.27 150,388.84 151.5,387.59 153,387.07 154.5,385.86 156,382.93 157.5,383.55 159,383.96 160.5,381.73 162,379.82 163.5,380.48 165,383.63 166.5,383.42 168,382.92 169.5,382.36 171,381.81 172.5,382.03 174,383.22 175.5,386.36 177,387.04 178.5,388.85 180,390.77 181.5,394.85 183,394.37 184.5,395.96 186,396.16 187.5,398.61 189,399.34 190.5,400.6 192,401.12 193.5,402.43 195,403.25 196.5,403.96 198,405.08 199.5,405.93 201,406.88 202.5,407.24 204,407.14 205.5,407.96 207,408.15 208.5,408.47 210,408.65 211.5,408.9 213,408.65 214.5,408.9 216,408.9 217.5,408.9 219,408.9 220.5,408.9 222,408.9 223.5,408.9 225,408.9 226.5,408.9 228,408.9 229.5,408.9 231,408.9 232.5,408.9 234,408.9 235.5,408.9 237,408.9 238.5,408.9 240,408.9 241.5,408.9" fill="none" stroke="#8f8f8f" stroke-width="0.85" stroke-linejoin="round"/>
<polyline points="90,408.9 91.5,408.9 93,408.76 94.5,408.53 96,408.29 97.5,407.9 99,407.86 100.5,408.01 102,407.44 103.5,407.47 105,407.34 106.5,407.13 108,406.96 109.5,406.51 111,406.44 112.5,406.36 114,406.39 115.5,406.23 117,405.51 118.5,404.83 120,405.09 121.5,404.9 123,404.38 124.5,405.02 126,404.29 127.5,403.68 129,403.2 130.5,403.32 132,402.45 133.5,401.87 135,400.86 136.5,401.24 138,399.35 139.5,399.73 141,399.31 142.5,396.27 144,394.79 145.5,391.5 147,389.76 148.5,389.57 150,385.62 151.5,385.38 153,382.23 154.5,380.64 156,379.03 157.5,377.38 159,376.8 160.5,376.1 162,375.12 163.5,376.99 165,379.92 166.5,379.3 168,377.81 169.5,376.35 171,377.95 172.5,376.11 174,381.07 175.5,383.24 177,383.34 178.5,384.67 180,387.52 181.5,389.14 183,390.47 184.5,393.48 186,396.13 187.5,396.94 189,397.32 190.5,400.25 192,400.54 193.5,401.6 195,402.99 196.5,403.51 198,404.59 199.5,404.85 201,406.22 202.5,407.15 204,407.57 205.5,407.98 207,407.94 208.5,408.47 210,408.58 211.5,408.6 213,408.82 214.5,408.84 216,408.9 217.5,408.9 219,408.9 220.5,408.9 222,408.9 223.5,408.9 225,408.9 226.5,408.9 228,408.9 229.5,408.9 231,408.9 232.5,408.9 234,408.9 235.5,408.9 237,408.9 238.5,408.9 240,408.9 241.5,408.9" fill="none" stroke="#111" stroke-width="0.9" stroke-linejoin="round"/>
<text x="108.7" y="368.8" font-size="9.4" stroke="#111" stroke-width="0.16" textLength="34.6" lengthAdjust="spacingAndGlyphs">VEGF-C</text>
<text x="146.2" y="368.8" font-size="9.4" stroke="#111" stroke-width="0.16" textLength="15.3" lengthAdjust="spacingAndGlyphs">100</text>
<text x="164.4" y="368.8" font-size="9.4" stroke="#111" stroke-width="0.16" textLength="5.2" lengthAdjust="spacingAndGlyphs">0</text>
<line x1="154.8" y1="369.5" x2="157.7" y2="375.1" stroke="#111" stroke-width="0.9"/>
<line x1="167.3" y1="369.5" x2="167.3" y2="375.1" stroke="#111" stroke-width="0.9"/>
<line x1="17.6" y1="428.2" x2="17.6" y2="471.5" stroke="#1a1a1a" stroke-width="1.6"/>
<line x1="15.2" y1="470.9" x2="17.6" y2="470.9" stroke="#222" stroke-width="0.8"/>
<line x1="15.9" y1="466.63" x2="17.6" y2="466.63" stroke="#222" stroke-width="0.8"/>
<line x1="15.9" y1="462.36" x2="17.6" y2="462.36" stroke="#222" stroke-width="0.8"/>
<line x1="15.9" y1="458.09" x2="17.6" y2="458.09" stroke="#222" stroke-width="0.8"/>
<line x1="15.9" y1="453.82" x2="17.6" y2="453.82" stroke="#222" stroke-width="0.8"/>
<line x1="15.9" y1="449.55" x2="17.6" y2="449.55" stroke="#222" stroke-width="0.8"/>
<line x1="15.9" y1="445.28" x2="17.6" y2="445.28" stroke="#222" stroke-width="0.8"/>
<line x1="15.9" y1="441.01" x2="17.6" y2="441.01" stroke="#222" stroke-width="0.8"/>
<line x1="15.9" y1="436.74" x2="17.6" y2="436.74" stroke="#222" stroke-width="0.8"/>
<line x1="15.9" y1="432.47" x2="17.6" y2="432.47" stroke="#222" stroke-width="0.8"/>
<line x1="15.2" y1="428.2" x2="17.6" y2="428.2" stroke="#222" stroke-width="0.8"/>
<line x1="17" y1="470.9" x2="243.2" y2="470.9" stroke="#1a1a1a" stroke-width="1.5"/>
<line x1="17.6" y1="470.9" x2="17.6" y2="473.5" stroke="#333" stroke-width="0.8"/>
<line x1="40.24" y1="470.9" x2="40.24" y2="472.5" stroke="#444" stroke-width="0.6"/>
<line x1="53.48" y1="470.9" x2="53.48" y2="472.5" stroke="#444" stroke-width="0.6"/>
<line x1="62.87" y1="470.9" x2="62.87" y2="472.5" stroke="#444" stroke-width="0.6"/>
<line x1="70.16" y1="470.9" x2="70.16" y2="472.5" stroke="#444" stroke-width="0.6"/>
<line x1="76.12" y1="470.9" x2="76.12" y2="472.5" stroke="#444" stroke-width="0.6"/>
<line x1="81.15" y1="470.9" x2="81.15" y2="472.5" stroke="#444" stroke-width="0.6"/>
<line x1="85.51" y1="470.9" x2="85.51" y2="472.5" stroke="#444" stroke-width="0.6"/>
<line x1="89.36" y1="470.9" x2="89.36" y2="472.5" stroke="#444" stroke-width="0.6"/>
<line x1="92.8" y1="470.9" x2="92.8" y2="473.5" stroke="#333" stroke-width="0.8"/>
<line x1="115.44" y1="470.9" x2="115.44" y2="472.5" stroke="#444" stroke-width="0.6"/>
<line x1="128.68" y1="470.9" x2="128.68" y2="472.5" stroke="#444" stroke-width="0.6"/>
<line x1="138.07" y1="470.9" x2="138.07" y2="472.5" stroke="#444" stroke-width="0.6"/>
<line x1="145.36" y1="470.9" x2="145.36" y2="472.5" stroke="#444" stroke-width="0.6"/>
<line x1="151.32" y1="470.9" x2="151.32" y2="472.5" stroke="#444" stroke-width="0.6"/>
<line x1="156.35" y1="470.9" x2="156.35" y2="472.5" stroke="#444" stroke-width="0.6"/>
<line x1="160.71" y1="470.9" x2="160.71" y2="472.5" stroke="#444" stroke-width="0.6"/>
<line x1="164.56" y1="470.9" x2="164.56" y2="472.5" stroke="#444" stroke-width="0.6"/>
<line x1="168" y1="470.9" x2="168" y2="473.5" stroke="#333" stroke-width="0.8"/>
<line x1="190.64" y1="470.9" x2="190.64" y2="472.5" stroke="#444" stroke-width="0.6"/>
<line x1="203.88" y1="470.9" x2="203.88" y2="472.5" stroke="#444" stroke-width="0.6"/>
<line x1="213.27" y1="470.9" x2="213.27" y2="472.5" stroke="#444" stroke-width="0.6"/>
<line x1="220.56" y1="470.9" x2="220.56" y2="472.5" stroke="#444" stroke-width="0.6"/>
<line x1="226.52" y1="470.9" x2="226.52" y2="472.5" stroke="#444" stroke-width="0.6"/>
<line x1="231.55" y1="470.9" x2="231.55" y2="472.5" stroke="#444" stroke-width="0.6"/>
<line x1="235.91" y1="470.9" x2="235.91" y2="472.5" stroke="#444" stroke-width="0.6"/>
<line x1="239.76" y1="470.9" x2="239.76" y2="472.5" stroke="#444" stroke-width="0.6"/>
<line x1="243.2" y1="470.9" x2="243.2" y2="473.5" stroke="#333" stroke-width="0.8"/>
<text x="12.4" y="480.6" font-size="7.2" fill="#222" textLength="6.2" lengthAdjust="spacingAndGlyphs">10</text>
<text x="19.2" y="477.1" font-size="6.2" fill="#222" textLength="2.8" lengthAdjust="spacingAndGlyphs">0</text>
<text x="87.6" y="480.6" font-size="7.2" fill="#222" textLength="6.2" lengthAdjust="spacingAndGlyphs">10</text>
<text x="94.4" y="477.1" font-size="6.2" fill="#222" textLength="2.8" lengthAdjust="spacingAndGlyphs">1</text>
<text x="162.8" y="480.6" font-size="7.2" fill="#222" textLength="6.2" lengthAdjust="spacingAndGlyphs">10</text>
<text x="169.6" y="477.1" font-size="6.2" fill="#222" textLength="2.8" lengthAdjust="spacingAndGlyphs">2</text>
<text x="238" y="480.6" font-size="7.2" fill="#222" textLength="6.2" lengthAdjust="spacingAndGlyphs">10</text>
<text x="244.8" y="477.1" font-size="6.2" fill="#222" textLength="2.8" lengthAdjust="spacingAndGlyphs">3</text>
<text x="13.9" y="470.9" font-size="6.2" text-anchor="middle" transform="rotate(-90 13.9 470.9)">0</text>
<text x="13.9" y="428.2" font-size="6.2" text-anchor="middle" textLength="8.8" lengthAdjust="spacingAndGlyphs" transform="rotate(-90 13.9 428.2)">100</text>
<text x="7.2" y="451.05" font-size="6.3" text-anchor="middle" textLength="19" lengthAdjust="spacingAndGlyphs" transform="rotate(-90 7.2 451.05)">Counts</text>
<text x="100.4" y="489.9" font-size="9.0" stroke="#111" stroke-width="0.16" textLength="36" lengthAdjust="spacingAndGlyphs">Sema3A</text>
<line x1="137.4" y1="486.9" x2="156.4" y2="486.9" stroke="#111" stroke-width="1.5"/>
<polygon points="153.6,484 163.7,486.9 153.6,489.8 154.6,486.9" fill="#111"/>
<polygon points="21.6,470.9 21.6,470.9 22.6,470.9 23.6,470.71 24.6,470.36 25.6,470.11 26.6,469.72 27.6,469.67 28.6,469.07 29.6,468.73 30.6,468.63 31.6,467.37 32.6,467.15 33.6,466.57 34.6,465.1 35.6,464.13 36.6,462.59 37.6,460.13 38.6,459.02 39.6,455.95 40.6,455.68 41.6,453.16 42.6,451.78 43.6,451.56 44.6,448.08 45.6,446.05 46.6,443.65 47.6,444.33 48.6,440.8 49.6,439.92 50.6,441.77 51.6,440.27 52.6,439.16 53.6,442.46 54.6,440.02 55.6,443 56.6,440.65 57.6,439.85 58.6,442.9 59.6,443.21 60.6,446.8 61.6,447.31 62.6,448.92 63.6,449.5 64.6,452.05 65.6,452.33 66.6,454.11 67.6,455.56 68.6,455.76 69.6,456.4 70.6,457.38 71.6,457.05 72.6,458.55 73.6,458.11 74.6,458.11 75.6,459.25 76.6,459.2 77.6,459.69 78.6,461.18 79.6,459.83 80.6,461.59 81.6,461.52 82.6,464.02 83.6,461.76 84.6,462.91 85.6,463.34 86.6,463.02 87.6,462.6 88.6,464.39 89.6,463.42 90.6,465.35 91.6,464.95 92.6,466.1 93.6,466.42 94.6,467.11 95.6,468.18 96.6,468.44 97.6,468.54 98.6,469.14 99.6,469.32 100.6,469.78 101.6,469.57 102.6,469.37 103.6,469.85 104.6,470.12 105.6,470.49 106.6,470.45 107.6,470.38 108.6,470.62 109.6,470.63 110.6,470.79 111.6,470.85 112.6,470.9 113.6,470.9 114.6,470.9 114.6,470.9" fill="#a3a3a3" stroke="#a3a3a3" stroke-width="0.4"/>
<polyline points="90,470.9 91.5,470.9 93,470.89 94.5,470.73 96,470.58 97.5,470.07 99,469.73 100.5,469.91 102,469.73 103.5,469.98 105,469.46 106.5,469.46 108,468.83 109.5,468.24 111,468.73 112.5,468.5 114,467.7 115.5,467.43 117,467.09 118.5,466.17 120,466.29 121.5,465.87 123,466.6 124.5,465.75 126,465.82 127.5,464.66 129,464.89 130.5,464.71 132,464.25 133.5,463.4 135,463.3 136.5,462.94 138,462.08 139.5,460.56 141,459.44 142.5,459.44 144,458.05 145.5,454.53 147,453.21 148.5,450.74 150,449.31 151.5,448.64 153,446.82 154.5,445.51 156,445.72 157.5,445.84 159,442.16 160.5,442.03 162,442.7 163.5,442.75 165,444.7 166.5,443.09 168,441.51 169.5,440.87 171,443.01 172.5,443.18 174,446.62 175.5,448.45 177,450.32 178.5,450.68 180,452.03 181.5,454.41 183,455.59 184.5,456.65 186,458.74 187.5,460.77 189,461.5 190.5,462.31 192,462.99 193.5,464.06 195,465.49 196.5,465.97 198,467.31 199.5,467.8 201,468.48 202.5,468.65 204,469.8 205.5,470.1 207,470.17 208.5,470.18 210,470.67 211.5,470.72 213,470.7 214.5,470.72 216,470.9 217.5,470.9 219,470.9 220.5,470.9 222,470.9 223.5,470.9 225,470.9 226.5,470.9 228,470.9 229.5,470.9 231,470.9 232.5,470.9 234,470.9 235.5,470.9 237,470.9 238.5,470.9 240,470.9 241.5,470.9" fill="none" stroke="#8f8f8f" stroke-width="0.85" stroke-linejoin="round"/>
<polyline points="90,470.9 91.5,470.9 93,470.9 94.5,470.62 96,470.4 97.5,470.17 99,470.14 100.5,469.46 102,469.6 103.5,469.23 105,469.32 106.5,468.83 108,469 109.5,468.72 111,468.37 112.5,468.45 114,468.18 115.5,467.86 117,467.5 118.5,467.04 120,466.89 121.5,466.69 123,466.11 124.5,466.11 126,466.42 127.5,465.07 129,466.26 130.5,464.11 132,465.37 133.5,464.68 135,463.63 136.5,461.92 138,462.19 139.5,460.17 141,458.87 142.5,458.49 144,456.28 145.5,453.84 147,452 148.5,450.83 150,449.89 151.5,446.65 153,444.63 154.5,441.28 156,439.64 157.5,439.41 159,438.97 160.5,437.56 162,435.52 163.5,435.1 165,437.5 166.5,437.73 168,436.52 169.5,437.12 171,435.23 172.5,439.05 174,438.31 175.5,440.67 177,444.7 178.5,443.41 180,444.95 181.5,448.01 183,452.5 184.5,455.12 186,454.21 187.5,456.3 189,458.65 190.5,460.17 192,462.22 193.5,462.34 195,464.81 196.5,465.5 198,465.96 199.5,466.31 201,467.51 202.5,468.12 204,468.63 205.5,469.26 207,469.96 208.5,470.11 210,470.41 211.5,470.66 213,470.7 214.5,470.78 216,470.9 217.5,470.9 219,470.9 220.5,470.9 222,470.9 223.5,470.9 225,470.9 226.5,470.9 228,470.9 229.5,470.9 231,470.9 232.5,470.9 234,470.9 235.5,470.9 237,470.9 238.5,470.9 240,470.9 241.5,470.9" fill="none" stroke="#111" stroke-width="0.9" stroke-linejoin="round"/>
<text x="119.2" y="430.4" font-size="9.4" stroke="#111" stroke-width="0.16" textLength="27" lengthAdjust="spacingAndGlyphs">FGF-2</text>
<text x="149" y="430.4" font-size="9.4" stroke="#111" stroke-width="0.16" textLength="15.4" lengthAdjust="spacingAndGlyphs">100</text>
<text x="167.3" y="430.4" font-size="9.4" stroke="#111" stroke-width="0.16" textLength="4.8" lengthAdjust="spacingAndGlyphs">0</text>
<line x1="157.7" y1="431.2" x2="159.6" y2="436.2" stroke="#111" stroke-width="0.9"/>
<line x1="168.3" y1="431.2" x2="168.3" y2="437" stroke="#111" stroke-width="0.9"/>
<text x="266.8" y="14.4" font-size="17" font-weight="bold" fill="#000" textLength="11.8" lengthAdjust="spacingAndGlyphs">C</text>
<line x1="288.5" y1="21.8" x2="288.5" y2="64.5" stroke="#1a1a1a" stroke-width="1.6"/>
<line x1="286.1" y1="63.9" x2="288.5" y2="63.9" stroke="#222" stroke-width="0.8"/>
<line x1="286.8" y1="60.01" x2="288.5" y2="60.01" stroke="#222" stroke-width="0.8"/>
<line x1="286.8" y1="56.12" x2="288.5" y2="56.12" stroke="#222" stroke-width="0.8"/>
<line x1="286.8" y1="52.23" x2="288.5" y2="52.23" stroke="#222" stroke-width="0.8"/>
<line x1="286.8" y1="48.34" x2="288.5" y2="48.34" stroke="#222" stroke-width="0.8"/>
<line x1="286.8" y1="44.45" x2="288.5" y2="44.45" stroke="#222" stroke-width="0.8"/>
<line x1="286.8" y1="40.56" x2="288.5" y2="40.56" stroke="#222" stroke-width="0.8"/>
<line x1="286.8" y1="36.67" x2="288.5" y2="36.67" stroke="#222" stroke-width="0.8"/>
<line x1="286.8" y1="32.78" x2="288.5" y2="32.78" stroke="#222" stroke-width="0.8"/>
<line x1="286.8" y1="28.89" x2="288.5" y2="28.89" stroke="#222" stroke-width="0.8"/>
<line x1="286.1" y1="25" x2="288.5" y2="25" stroke="#222" stroke-width="0.8"/>
<line x1="287.9" y1="63.9" x2="513.5" y2="63.9" stroke="#1a1a1a" stroke-width="1.5"/>
<line x1="288.5" y1="63.9" x2="288.5" y2="66.5" stroke="#333" stroke-width="0.8"/>
<line x1="311.08" y1="63.9" x2="311.08" y2="65.5" stroke="#444" stroke-width="0.6"/>
<line x1="324.28" y1="63.9" x2="324.28" y2="65.5" stroke="#444" stroke-width="0.6"/>
<line x1="333.65" y1="63.9" x2="333.65" y2="65.5" stroke="#444" stroke-width="0.6"/>
<line x1="340.92" y1="63.9" x2="340.92" y2="65.5" stroke="#444" stroke-width="0.6"/>
<line x1="346.86" y1="63.9" x2="346.86" y2="65.5" stroke="#444" stroke-width="0.6"/>
<line x1="351.88" y1="63.9" x2="351.88" y2="65.5" stroke="#444" stroke-width="0.6"/>
<line x1="356.23" y1="63.9" x2="356.23" y2="65.5" stroke="#444" stroke-width="0.6"/>
<line x1="360.07" y1="63.9" x2="360.07" y2="65.5" stroke="#444" stroke-width="0.6"/>
<line x1="363.5" y1="63.9" x2="363.5" y2="66.5" stroke="#333" stroke-width="0.8"/>
<line x1="386.08" y1="63.9" x2="386.08" y2="65.5" stroke="#444" stroke-width="0.6"/>
<line x1="399.28" y1="63.9" x2="399.28" y2="65.5" stroke="#444" stroke-width="0.6"/>
<line x1="408.65" y1="63.9" x2="408.65" y2="65.5" stroke="#444" stroke-width="0.6"/>
<line x1="415.92" y1="63.9" x2="415.92" y2="65.5" stroke="#444" stroke-width="0.6"/>
<line x1="421.86" y1="63.9" x2="421.86" y2="65.5" stroke="#444" stroke-width="0.6"/>
<line x1="426.88" y1="63.9" x2="426.88" y2="65.5" stroke="#444" stroke-width="0.6"/>
<line x1="431.23" y1="63.9" x2="431.23" y2="65.5" stroke="#444" stroke-width="0.6"/>
<line x1="435.07" y1="63.9" x2="435.07" y2="65.5" stroke="#444" stroke-width="0.6"/>
<line x1="438.5" y1="63.9" x2="438.5" y2="66.5" stroke="#333" stroke-width="0.8"/>
<line x1="461.08" y1="63.9" x2="461.08" y2="65.5" stroke="#444" stroke-width="0.6"/>
<line x1="474.28" y1="63.9" x2="474.28" y2="65.5" stroke="#444" stroke-width="0.6"/>
<line x1="483.65" y1="63.9" x2="483.65" y2="65.5" stroke="#444" stroke-width="0.6"/>
<line x1="490.92" y1="63.9" x2="490.92" y2="65.5" stroke="#444" stroke-width="0.6"/>
<line x1="496.86" y1="63.9" x2="496.86" y2="65.5" stroke="#444" stroke-width="0.6"/>
<line x1="501.88" y1="63.9" x2="501.88" y2="65.5" stroke="#444" stroke-width="0.6"/>
<line x1="506.23" y1="63.9" x2="506.23" y2="65.5" stroke="#444" stroke-width="0.6"/>
<line x1="510.07" y1="63.9" x2="510.07" y2="65.5" stroke="#444" stroke-width="0.6"/>
<line x1="513.5" y1="63.9" x2="513.5" y2="66.5" stroke="#333" stroke-width="0.8"/>
<text x="283.3" y="73.6" font-size="7.2" fill="#222" textLength="6.2" lengthAdjust="spacingAndGlyphs">10</text>
<text x="290.1" y="70.1" font-size="6.2" fill="#222" textLength="2.8" lengthAdjust="spacingAndGlyphs">0</text>
<text x="358.3" y="73.6" font-size="7.2" fill="#222" textLength="6.2" lengthAdjust="spacingAndGlyphs">10</text>
<text x="365.1" y="70.1" font-size="6.2" fill="#222" textLength="2.8" lengthAdjust="spacingAndGlyphs">1</text>
<text x="433.3" y="73.6" font-size="7.2" fill="#222" textLength="6.2" lengthAdjust="spacingAndGlyphs">10</text>
<text x="440.1" y="70.1" font-size="6.2" fill="#222" textLength="2.8" lengthAdjust="spacingAndGlyphs">2</text>
<text x="508.3" y="73.6" font-size="7.2" fill="#222" textLength="6.2" lengthAdjust="spacingAndGlyphs">10</text>
<text x="515.1" y="70.1" font-size="6.2" fill="#222" textLength="2.8" lengthAdjust="spacingAndGlyphs">3</text>
<text x="283.9" y="63.9" font-size="6.2" text-anchor="middle" transform="rotate(-90 283.9 63.9)">0</text>
<text x="283.9" y="25" font-size="6.2" text-anchor="middle" textLength="8.8" lengthAdjust="spacingAndGlyphs" transform="rotate(-90 283.9 25)">100</text>
<text x="276.7" y="44.35" font-size="6.3" text-anchor="middle" textLength="19" lengthAdjust="spacingAndGlyphs" transform="rotate(-90 276.7 44.35)">Counts</text>
<polygon points="289,63.9 289,63.9 290,63.81 291,63.5 292,63.19 293,63.04 294,62.61 295,61.62 296,61.68 297,60.77 298,60.39 299,59.16 300,58.18 301,56.91 302,55.77 303,55.64 304,54.06 305,52.34 306,50.19 307,47.47 308,45.52 309,43.95 310,41.65 311,36.23 312,37.82 313,31.67 314,32.87 315,30.61 316,27.59 317,26.83 318,29.24 319,31.33 320,29.76 321,28.5 322,29.39 323,32.15 324,32.99 325,34.87 326,33.84 327,39.73 328,38.65 329,39.4 330,41.04 331,41.72 332,42.81 333,42.97 334,45.2 335,46.1 336,47.6 337,47.54 338,48.62 339,48.75 340,49.88 341,50.08 342,51.3 343,52.46 344,52.74 345,53.42 346,53.09 347,54.4 348,54.67 349,54.89 350,55.66 351,56.58 352,56.8 353,58.43 354,57.43 355,58.47 356,59.22 357,58.45 358,59.19 359,60.02 360,59.46 361,59.63 362,60.48 363,61.06 364,61.01 365,60.89 366,61.9 367,61.95 368,62.21 369,62.17 370,62.34 371,62.38 372,62.72 373,62.69 374,62.51 375,63.25 376,63.16 377,63.24 378,63.36 379,63.43 380,63.52 381,63.52 382,63.67 383,63.7 384,63.77 385,63.8 386,63.9 386,63.9" fill="#a3a3a3" stroke="#a3a3a3" stroke-width="0.4"/>
<polyline points="290,63.9 291.5,63.9 293,63.9 294.5,63.9 296,63.9 297.5,63.9 299,63.9 300.5,63.88 302,63.8 303.5,63.81 305,63.69 306.5,63.72 308,63.88 309.5,63.57 311,63.66 312.5,63.39 314,63.26 315.5,63.04 317,63.19 318.5,63.18 320,62.84 321.5,62.63 323,62.98 324.5,62.34 326,62.19 327.5,61.28 329,61.14 330.5,60.66 332,60.03 333.5,59.71 335,59.88 336.5,58.79 338,57.29 339.5,57.02 341,56.32 342.5,54.43 344,53.46 345.5,53.06 347,51.75 348.5,49.25 350,48.7 351.5,47.55 353,44.72 354.5,42.55 356,43.5 357.5,41.23 359,38.28 360.5,38.04 362,36.73 363.5,36.57 365,34.14 366.5,38.43 368,35.82 369.5,37.35 371,39.23 372.5,38.97 374,39.62 375.5,38.92 377,40.72 378.5,42.12 380,42.87 381.5,42.55 383,42.96 384.5,45.24 386,44.87 387.5,45.67 389,46.79 390.5,47.6 392,48.32 393.5,49.29 395,50.25 396.5,50.43 398,51.28 399.5,52.16 401,53.52 402.5,52.94 404,54.42 405.5,53.2 407,54.35 408.5,56.73 410,56.18 411.5,58.48 413,59.36 414.5,59.43 416,59.67 417.5,59.91 419,59.64 420.5,61.21 422,61.23 423.5,61.27 425,61.89 426.5,61.88 428,62.45 429.5,62.67 431,63.1 432.5,63.45 434,63.57 435.5,63.78 437,63.7 438.5,63.74 440,63.8 441.5,63.84 443,63.85 444.5,63.89 446,63.9 447.5,63.9 449,63.9 450.5,63.9 452,63.9 453.5,63.9 455,63.9 456.5,63.9 458,63.9 459.5,63.9 461,63.9 462.5,63.9 464,63.9 465.5,63.9 467,63.9 468.5,63.9 470,63.9 471.5,63.9 473,63.9 474.5,63.9 476,63.9 477.5,63.9 479,63.9 480.5,63.9 482,63.9 483.5,63.9 485,63.9 486.5,63.9 488,63.9 489.5,63.9 491,63.9 492.5,63.9 494,63.9 495.5,63.9 497,63.9 498.5,63.9 500,63.9 501.5,63.9 503,63.9 504.5,63.9 506,63.9 507.5,63.9 509,63.9 510.5,63.9 512,63.9 513.5,63.9" fill="none" stroke="#1a1a1a" stroke-width="0.9" stroke-linejoin="round"/>
<polyline points="290,63.9 291.5,63.9 293,63.9 294.5,63.9 296,63.9 297.5,63.9 299,63.9 300.5,63.9 302,63.9 303.5,63.9 305,63.9 306.5,63.9 308,63.9 309.5,63.9 311,63.9 312.5,63.9 314,63.9 315.5,63.9 317,63.9 318.5,63.9 320,63.9 321.5,63.9 323,63.9 324.5,63.9 326,63.9 327.5,63.9 329,63.9 330.5,63.9 332,63.9 333.5,63.9 335,63.9 336.5,63.9 338,63.9 339.5,63.9 341,63.89 342.5,63.87 344,63.89 345.5,63.82 347,63.76 348.5,63.84 350,63.68 351.5,63.7 353,63.69 354.5,63.69 356,63.57 357.5,63.6 359,63.54 360.5,63.72 362,63.48 363.5,63.16 365,63.21 366.5,63.29 368,63.05 369.5,62.49 371,62.09 372.5,62.45 374,61.63 375.5,61.81 377,60.73 378.5,59.49 380,59.8 381.5,58.01 383,57.73 384.5,56.34 386,55.23 387.5,54.37 389,53.31 390.5,50.98 392,49.6 393.5,48.45 395,48.53 396.5,46.04 398,45.04 399.5,43.1 401,40.69 402.5,37.25 404,36.88 405.5,33.65 407,33.15 408.5,31.01 410,28.02 411.5,28.95 413,28.33 414.5,27.92 416,25.25 417.5,24.14 419,22.74 420.5,26.12 422,28.4 423.5,26.63 425,28.2 426.5,30.37 428,32.89 429.5,32.82 431,35.89 432.5,35.39 434,38.07 435.5,38.76 437,39.83 438.5,42.55 440,42.8 441.5,44.53 443,45.47 444.5,45.11 446,46.16 447.5,47.74 449,48.47 450.5,48.97 452,50.89 453.5,50.11 455,52.73 456.5,53.03 458,54.48 459.5,55.06 461,55.32 462.5,55.32 464,57.16 465.5,57.86 467,58.98 468.5,59.24 470,58.69 471.5,59.63 473,61.57 474.5,61.95 476,62.02 477.5,62.08 479,62.32 480.5,62.6 482,63.25 483.5,63.33 485,63.36 486.5,63.69 488,63.36 489.5,63.55 491,63.9 492.5,63.72 494,63.86 495.5,63.9 497,63.9 498.5,63.9 500,63.9 501.5,63.9 503,63.9 504.5,63.9 506,63.9 507.5,63.9 509,63.9 510.5,63.9 512,63.9 513.5,63.9" fill="none" stroke="#999" stroke-width="0.9" stroke-linejoin="round"/>
<text x="333.8" y="23.2" font-size="9.4" stroke="#111" stroke-width="0.16" textLength="23.1" lengthAdjust="spacingAndGlyphs">VEGF</text>
<text x="358.8" y="25.8" font-size="8.6" stroke="#111" stroke-width="0.16" textLength="12.5" lengthAdjust="spacingAndGlyphs">165</text>
<text x="375.8" y="23.4" font-size="9.4" stroke="#111" stroke-width="0.16" textLength="17.7" lengthAdjust="spacingAndGlyphs">12.5</text>
<text x="409.8" y="23.4" font-size="9.4" stroke="#111" stroke-width="0.16" textLength="4.8" lengthAdjust="spacingAndGlyphs">0</text>
<line x1="385.8" y1="25" x2="369.4" y2="37.5" stroke="#111" stroke-width="0.9"/>
<line x1="413" y1="24.6" x2="413" y2="28.8" stroke="#111" stroke-width="0.9"/>
<line x1="288.5" y1="83.6" x2="288.5" y2="127.2" stroke="#1a1a1a" stroke-width="1.6"/>
<line x1="286.1" y1="126.6" x2="288.5" y2="126.6" stroke="#222" stroke-width="0.8"/>
<line x1="286.8" y1="122.3" x2="288.5" y2="122.3" stroke="#222" stroke-width="0.8"/>
<line x1="286.8" y1="118" x2="288.5" y2="118" stroke="#222" stroke-width="0.8"/>
<line x1="286.8" y1="113.7" x2="288.5" y2="113.7" stroke="#222" stroke-width="0.8"/>
<line x1="286.8" y1="109.4" x2="288.5" y2="109.4" stroke="#222" stroke-width="0.8"/>
<line x1="286.8" y1="105.1" x2="288.5" y2="105.1" stroke="#222" stroke-width="0.8"/>
<line x1="286.8" y1="100.8" x2="288.5" y2="100.8" stroke="#222" stroke-width="0.8"/>
<line x1="286.8" y1="96.5" x2="288.5" y2="96.5" stroke="#222" stroke-width="0.8"/>
<line x1="286.8" y1="92.2" x2="288.5" y2="92.2" stroke="#222" stroke-width="0.8"/>
<line x1="286.8" y1="87.9" x2="288.5" y2="87.9" stroke="#222" stroke-width="0.8"/>
<line x1="286.1" y1="83.6" x2="288.5" y2="83.6" stroke="#222" stroke-width="0.8"/>
<line x1="287.9" y1="126.6" x2="513.5" y2="126.6" stroke="#1a1a1a" stroke-width="1.5"/>
<line x1="288.5" y1="126.6" x2="288.5" y2="129.2" stroke="#333" stroke-width="0.8"/>
<line x1="311.08" y1="126.6" x2="311.08" y2="128.2" stroke="#444" stroke-width="0.6"/>
<line x1="324.28" y1="126.6" x2="324.28" y2="128.2" stroke="#444" stroke-width="0.6"/>
<line x1="333.65" y1="126.6" x2="333.65" y2="128.2" stroke="#444" stroke-width="0.6"/>
<line x1="340.92" y1="126.6" x2="340.92" y2="128.2" stroke="#444" stroke-width="0.6"/>
<line x1="346.86" y1="126.6" x2="346.86" y2="128.2" stroke="#444" stroke-width="0.6"/>
<line x1="351.88" y1="126.6" x2="351.88" y2="128.2" stroke="#444" stroke-width="0.6"/>
<line x1="356.23" y1="126.6" x2="356.23" y2="128.2" stroke="#444" stroke-width="0.6"/>
<line x1="360.07" y1="126.6" x2="360.07" y2="128.2" stroke="#444" stroke-width="0.6"/>
<line x1="363.5" y1="126.6" x2="363.5" y2="129.2" stroke="#333" stroke-width="0.8"/>
<line x1="386.08" y1="126.6" x2="386.08" y2="128.2" stroke="#444" stroke-width="0.6"/>
<line x1="399.28" y1="126.6" x2="399.28" y2="128.2" stroke="#444" stroke-width="0.6"/>
<line x1="408.65" y1="126.6" x2="408.65" y2="128.2" stroke="#444" stroke-width="0.6"/>
<line x1="415.92" y1="126.6" x2="415.92" y2="128.2" stroke="#444" stroke-width="0.6"/>
<line x1="421.86" y1="126.6" x2="421.86" y2="128.2" stroke="#444" stroke-width="0.6"/>
<line x1="426.88" y1="126.6" x2="426.88" y2="128.2" stroke="#444" stroke-width="0.6"/>
<line x1="431.23" y1="126.6" x2="431.23" y2="128.2" stroke="#444" stroke-width="0.6"/>
<line x1="435.07" y1="126.6" x2="435.07" y2="128.2" stroke="#444" stroke-width="0.6"/>
<line x1="438.5" y1="126.6" x2="438.5" y2="129.2" stroke="#333" stroke-width="0.8"/>
<line x1="461.08" y1="126.6" x2="461.08" y2="128.2" stroke="#444" stroke-width="0.6"/>
<line x1="474.28" y1="126.6" x2="474.28" y2="128.2" stroke="#444" stroke-width="0.6"/>
<line x1="483.65" y1="126.6" x2="483.65" y2="128.2" stroke="#444" stroke-width="0.6"/>
<line x1="490.92" y1="126.6" x2="490.92" y2="128.2" stroke="#444" stroke-width="0.6"/>
<line x1="496.86" y1="126.6" x2="496.86" y2="128.2" stroke="#444" stroke-width="0.6"/>
<line x1="501.88" y1="126.6" x2="501.88" y2="128.2" stroke="#444" stroke-width="0.6"/>
<line x1="506.23" y1="126.6" x2="506.23" y2="128.2" stroke="#444" stroke-width="0.6"/>
<line x1="510.07" y1="126.6" x2="510.07" y2="128.2" stroke="#444" stroke-width="0.6"/>
<line x1="513.5" y1="126.6" x2="513.5" y2="129.2" stroke="#333" stroke-width="0.8"/>
<text x="283.3" y="136.3" font-size="7.2" fill="#222" textLength="6.2" lengthAdjust="spacingAndGlyphs">10</text>
<text x="290.1" y="132.8" font-size="6.2" fill="#222" textLength="2.8" lengthAdjust="spacingAndGlyphs">0</text>
<text x="358.3" y="136.3" font-size="7.2" fill="#222" textLength="6.2" lengthAdjust="spacingAndGlyphs">10</text>
<text x="365.1" y="132.8" font-size="6.2" fill="#222" textLength="2.8" lengthAdjust="spacingAndGlyphs">1</text>
<text x="433.3" y="136.3" font-size="7.2" fill="#222" textLength="6.2" lengthAdjust="spacingAndGlyphs">10</text>
<text x="440.1" y="132.8" font-size="6.2" fill="#222" textLength="2.8" lengthAdjust="spacingAndGlyphs">2</text>
<text x="508.3" y="136.3" font-size="7.2" fill="#222" textLength="6.2" lengthAdjust="spacingAndGlyphs">10</text>
<text x="515.1" y="132.8" font-size="6.2" fill="#222" textLength="2.8" lengthAdjust="spacingAndGlyphs">3</text>
<text x="283.9" y="126.6" font-size="6.2" text-anchor="middle" transform="rotate(-90 283.9 126.6)">0</text>
<text x="283.9" y="83.6" font-size="6.2" text-anchor="middle" textLength="8.8" lengthAdjust="spacingAndGlyphs" transform="rotate(-90 283.9 83.6)">120</text>
<text x="276.7" y="106.6" font-size="6.3" text-anchor="middle" textLength="19" lengthAdjust="spacingAndGlyphs" transform="rotate(-90 276.7 106.6)">Counts</text>
<polygon points="290.5,126.6 290.5,126.6 291.5,126.6 292.5,126.55 293.5,126.33 294.5,126.07 295.5,126.21 296.5,125.87 297.5,126.42 298.5,125.74 299.5,125.37 300.5,125.1 301.5,124.87 302.5,124.17 303.5,123.98 304.5,123.74 305.5,121.98 306.5,121.49 307.5,120.89 308.5,119.01 309.5,117.33 310.5,115.26 311.5,114.03 312.5,111.7 313.5,108.79 314.5,105.79 315.5,104.41 316.5,98.67 317.5,99.35 318.5,96.25 319.5,93.9 320.5,90.76 321.5,89.51 322.5,89.72 323.5,92.02 324.5,92.69 325.5,92.16 326.5,90.87 327.5,88.22 328.5,89.84 329.5,92.84 330.5,95.36 331.5,95.2 332.5,98.42 333.5,97.99 334.5,98.53 335.5,100.68 336.5,100.44 337.5,101.68 338.5,102.82 339.5,102.81 340.5,105.49 341.5,105.43 342.5,105.17 343.5,106.25 344.5,108.43 345.5,108.97 346.5,109.11 347.5,110.51 348.5,108.96 349.5,109.65 350.5,111.22 351.5,110.23 352.5,111.66 353.5,111.27 354.5,111.95 355.5,111.86 356.5,111.62 357.5,114.95 358.5,115.01 359.5,114.96 360.5,115.05 361.5,115.68 362.5,116.71 363.5,116.81 364.5,118.31 365.5,118.3 366.5,119.21 367.5,120.39 368.5,121.02 369.5,121.24 370.5,122.48 371.5,122.11 372.5,123.59 373.5,123.06 374.5,123.81 375.5,123.71 376.5,124.4 377.5,124.72 378.5,124.81 379.5,125.11 380.5,124.92 381.5,125.33 382.5,125.39 383.5,125.64 384.5,126.04 385.5,126.11 386.5,125.96 387.5,126.33 388.5,126.44 389.5,126.5 390.5,126.6 391.5,126.6 391.5,126.6" fill="#a3a3a3" stroke="#a3a3a3" stroke-width="0.4"/>
<polyline points="340,126.6 341.5,126.6 343,126.6 344.5,126.6 346,126.6 347.5,126.6 349,126.6 350.5,126.6 352,126.6 353.5,126.6 355,126.6 356.5,126.6 358,126.6 359.5,126.59 361,126.43 362.5,126.37 364,126.23 365.5,126.24 367,126.26 368.5,126.03 370,125.85 371.5,125.95 373,125.91 374.5,125.47 376,124.61 377.5,124.18 379,123.54 380.5,121.95 382,121.75 383.5,121.24 385,119.94 386.5,119.89 388,118.33 389.5,117.53 391,115.84 392.5,113.82 394,112.42 395.5,109.41 397,107.98 398.5,104.68 400,101.95 401.5,101.86 403,99.61 404.5,96.19 406,94.72 407.5,91.87 409,91.86 410.5,92.83 412,89.09 413.5,87.42 415,89.06 416.5,87.96 418,88.96 419.5,87.04 421,87.59 422.5,89.43 424,88.61 425.5,90.47 427,90.6 428.5,93.51 430,98.05 431.5,97.33 433,98.8 434.5,101.86 436,103.09 437.5,106.16 439,106.26 440.5,108.16 442,111.63 443.5,109.71 445,110.69 446.5,112.07 448,113.53 449.5,113.63 451,114.93 452.5,116.55 454,117.41 455.5,119.05 457,119.22 458.5,120.31 460,119.46 461.5,120.33 463,120.97 464.5,122.02 466,122.34 467.5,122.41 469,123.54 470.5,123.23 472,124.25 473.5,124.74 475,124.05 476.5,124.25 478,124.76 479.5,124.56 481,124.9 482.5,125.6 484,125.63 485.5,125.58 487,125.48 488.5,125.59 490,126.29 491.5,126.37 493,126.3 494.5,126.6 496,126.6 497.5,126.6 499,126.6 500.5,126.6 502,126.6 503.5,126.6 505,126.6 506.5,126.6 508,126.6 509.5,126.6 511,126.6 512.5,126.6 514,126.6" fill="none" stroke="#9a9a9a" stroke-width="0.9" stroke-linejoin="round"/>
<polyline points="340,126.6 341.5,126.6 343,126.6 344.5,126.6 346,126.6 347.5,126.6 349,126.6 350.5,126.6 352,126.6 353.5,126.6 355,126.6 356.5,126.6 358,126.6 359.5,126.6 361,126.6 362.5,126.56 364,126.47 365.5,126.23 367,126.38 368.5,126.19 370,126.15 371.5,125.94 373,125.77 374.5,125.4 376,124.92 377.5,124.45 379,123.91 380.5,123.2 382,122.5 383.5,120.93 385,120.98 386.5,119.73 388,117.69 389.5,118.69 391,116.81 392.5,115.42 394,112.91 395.5,113.68 397,112.54 398.5,109.12 400,105.86 401.5,106.78 403,102.72 404.5,100.04 406,98.84 407.5,98.49 409,96.33 410.5,94.62 412,93.66 413.5,93.47 415,90.78 416.5,89.27 418,88.05 419.5,88.16 421,85.88 422.5,87.16 424,88.9 425.5,89.75 427,93.37 428.5,91.93 430,95.73 431.5,95.32 433,97.02 434.5,96.82 436,100.67 437.5,101.9 439,104.27 440.5,107.09 442,106.33 443.5,108.49 445,109.4 446.5,110.7 448,112.62 449.5,112.28 451,112.86 452.5,113.76 454,115.75 455.5,117.94 457,118.42 458.5,118.61 460,119.91 461.5,119.95 463,121.83 464.5,121.43 466,121.05 467.5,121.78 469,122.35 470.5,123.45 472,123.7 473.5,123.93 475,124.15 476.5,124.31 478,124.21 479.5,124.45 481,124.75 482.5,124.63 484,125.11 485.5,125.54 487,125.58 488.5,125.87 490,125.98 491.5,126.12 493,126.19 494.5,126.37 496,126.45 497.5,126.6 499,126.6 500.5,126.6 502,126.6 503.5,126.6 505,126.6 506.5,126.6 508,126.6 509.5,126.6 511,126.6 512.5,126.6 514,126.6" fill="none" stroke="#111" stroke-width="0.9" stroke-linejoin="round"/>
<text x="346.3" y="85.5" font-size="9.4" stroke="#111" stroke-width="0.16" textLength="25" lengthAdjust="spacingAndGlyphs">VEGF</text>
<text x="372.3" y="87.9" font-size="8.6" stroke="#111" stroke-width="0.16" textLength="12.5" lengthAdjust="spacingAndGlyphs">121</text>
<text x="388.7" y="85.8" font-size="9.4" stroke="#111" stroke-width="0.16" textLength="15.3" lengthAdjust="spacingAndGlyphs">100</text>
<text x="406.9" y="85.8" font-size="9.4" stroke="#111" stroke-width="0.16" textLength="4.8" lengthAdjust="spacingAndGlyphs">0</text>
<line x1="396.3" y1="87.3" x2="404" y2="100.8" stroke="#111" stroke-width="0.9"/>
<line x1="409.2" y1="87.3" x2="409.2" y2="94" stroke="#111" stroke-width="0.9"/>
<line x1="288.5" y1="146.2" x2="288.5" y2="189.5" stroke="#1a1a1a" stroke-width="1.6"/>
<line x1="286.1" y1="188.9" x2="288.5" y2="188.9" stroke="#222" stroke-width="0.8"/>
<line x1="286.8" y1="184.63" x2="288.5" y2="184.63" stroke="#222" stroke-width="0.8"/>
<line x1="286.8" y1="180.36" x2="288.5" y2="180.36" stroke="#222" stroke-width="0.8"/>
<line x1="286.8" y1="176.09" x2="288.5" y2="176.09" stroke="#222" stroke-width="0.8"/>
<line x1="286.8" y1="171.82" x2="288.5" y2="171.82" stroke="#222" stroke-width="0.8"/>
<line x1="286.8" y1="167.55" x2="288.5" y2="167.55" stroke="#222" stroke-width="0.8"/>
<line x1="286.8" y1="163.28" x2="288.5" y2="163.28" stroke="#222" stroke-width="0.8"/>
<line x1="286.8" y1="159.01" x2="288.5" y2="159.01" stroke="#222" stroke-width="0.8"/>
<line x1="286.8" y1="154.74" x2="288.5" y2="154.74" stroke="#222" stroke-width="0.8"/>
<line x1="286.8" y1="150.47" x2="288.5" y2="150.47" stroke="#222" stroke-width="0.8"/>
<line x1="286.1" y1="146.2" x2="288.5" y2="146.2" stroke="#222" stroke-width="0.8"/>
<line x1="287.9" y1="188.9" x2="513.5" y2="188.9" stroke="#1a1a1a" stroke-width="1.5"/>
<line x1="288.5" y1="188.9" x2="288.5" y2="191.5" stroke="#333" stroke-width="0.8"/>
<line x1="311.08" y1="188.9" x2="311.08" y2="190.5" stroke="#444" stroke-width="0.6"/>
<line x1="324.28" y1="188.9" x2="324.28" y2="190.5" stroke="#444" stroke-width="0.6"/>
<line x1="333.65" y1="188.9" x2="333.65" y2="190.5" stroke="#444" stroke-width="0.6"/>
<line x1="340.92" y1="188.9" x2="340.92" y2="190.5" stroke="#444" stroke-width="0.6"/>
<line x1="346.86" y1="188.9" x2="346.86" y2="190.5" stroke="#444" stroke-width="0.6"/>
<line x1="351.88" y1="188.9" x2="351.88" y2="190.5" stroke="#444" stroke-width="0.6"/>
<line x1="356.23" y1="188.9" x2="356.23" y2="190.5" stroke="#444" stroke-width="0.6"/>
<line x1="360.07" y1="188.9" x2="360.07" y2="190.5" stroke="#444" stroke-width="0.6"/>
<line x1="363.5" y1="188.9" x2="363.5" y2="191.5" stroke="#333" stroke-width="0.8"/>
<line x1="386.08" y1="188.9" x2="386.08" y2="190.5" stroke="#444" stroke-width="0.6"/>
<line x1="399.28" y1="188.9" x2="399.28" y2="190.5" stroke="#444" stroke-width="0.6"/>
<line x1="408.65" y1="188.9" x2="408.65" y2="190.5" stroke="#444" stroke-width="0.6"/>
<line x1="415.92" y1="188.9" x2="415.92" y2="190.5" stroke="#444" stroke-width="0.6"/>
<line x1="421.86" y1="188.9" x2="421.86" y2="190.5" stroke="#444" stroke-width="0.6"/>
<line x1="426.88" y1="188.9" x2="426.88" y2="190.5" stroke="#444" stroke-width="0.6"/>
<line x1="431.23" y1="188.9" x2="431.23" y2="190.5" stroke="#444" stroke-width="0.6"/>
<line x1="435.07" y1="188.9" x2="435.07" y2="190.5" stroke="#444" stroke-width="0.6"/>
<line x1="438.5" y1="188.9" x2="438.5" y2="191.5" stroke="#333" stroke-width="0.8"/>
<line x1="461.08" y1="188.9" x2="461.08" y2="190.5" stroke="#444" stroke-width="0.6"/>
<line x1="474.28" y1="188.9" x2="474.28" y2="190.5" stroke="#444" stroke-width="0.6"/>
<line x1="483.65" y1="188.9" x2="483.65" y2="190.5" stroke="#444" stroke-width="0.6"/>
<line x1="490.92" y1="188.9" x2="490.92" y2="190.5" stroke="#444" stroke-width="0.6"/>
<line x1="496.86" y1="188.9" x2="496.86" y2="190.5" stroke="#444" stroke-width="0.6"/>
<line x1="501.88" y1="188.9" x2="501.88" y2="190.5" stroke="#444" stroke-width="0.6"/>
<line x1="506.23" y1="188.9" x2="506.23" y2="190.5" stroke="#444" stroke-width="0.6"/>
<line x1="510.07" y1="188.9" x2="510.07" y2="190.5" stroke="#444" stroke-width="0.6"/>
<line x1="513.5" y1="188.9" x2="513.5" y2="191.5" stroke="#333" stroke-width="0.8"/>
<text x="283.3" y="198.6" font-size="7.2" fill="#222" textLength="6.2" lengthAdjust="spacingAndGlyphs">10</text>
<text x="290.1" y="195.1" font-size="6.2" fill="#222" textLength="2.8" lengthAdjust="spacingAndGlyphs">0</text>
<text x="358.3" y="198.6" font-size="7.2" fill="#222" textLength="6.2" lengthAdjust="spacingAndGlyphs">10</text>
<text x="365.1" y="195.1" font-size="6.2" fill="#222" textLength="2.8" lengthAdjust="spacingAndGlyphs">1</text>
<text x="433.3" y="198.6" font-size="7.2" fill="#222" textLength="6.2" lengthAdjust="spacingAndGlyphs">10</text>
<text x="440.1" y="195.1" font-size="6.2" fill="#222" textLength="2.8" lengthAdjust="spacingAndGlyphs">2</text>
<text x="508.3" y="198.6" font-size="7.2" fill="#222" textLength="6.2" lengthAdjust="spacingAndGlyphs">10</text>
<text x="515.1" y="195.1" font-size="6.2" fill="#222" textLength="2.8" lengthAdjust="spacingAndGlyphs">3</text>
<text x="283.9" y="188.9" font-size="6.2" text-anchor="middle" transform="rotate(-90 283.9 188.9)">0</text>
<text x="283.9" y="146.2" font-size="6.2" text-anchor="middle" textLength="8.8" lengthAdjust="spacingAndGlyphs" transform="rotate(-90 283.9 146.2)">120</text>
<text x="276.7" y="169.05" font-size="6.3" text-anchor="middle" textLength="19" lengthAdjust="spacingAndGlyphs" transform="rotate(-90 276.7 169.05)">Counts</text>
<text x="372.5" y="209.2" font-size="9.0" stroke="#111" stroke-width="0.16" textLength="36" lengthAdjust="spacingAndGlyphs">Sema3A</text>
<line x1="409.5" y1="206.2" x2="428.5" y2="206.2" stroke="#111" stroke-width="1.5"/>
<polygon points="425.7,203.3 435.8,206.2 425.7,209.1 426.7,206.2" fill="#111"/>
<polygon points="290.5,188.9 290.5,188.9 291.5,188.9 292.5,188.87 293.5,188.73 294.5,188.72 295.5,188.56 296.5,188.35 297.5,188.3 298.5,188.3 299.5,187.7 300.5,187.89 301.5,187.54 302.5,186.92 303.5,186.08 304.5,185.7 305.5,184.6 306.5,183.38 307.5,182.53 308.5,181.73 309.5,179.39 310.5,176.54 311.5,177 312.5,174.04 313.5,172.16 314.5,170.06 315.5,164.87 316.5,163.23 317.5,158.96 318.5,158.13 319.5,154.37 320.5,156.11 321.5,153.46 322.5,152.15 323.5,155.09 324.5,155.51 325.5,153.85 326.5,151.53 327.5,152.49 328.5,152.98 329.5,155.94 330.5,156.36 331.5,158.1 332.5,159.72 333.5,159.62 334.5,160.44 335.5,164.27 336.5,163.32 337.5,164 338.5,165.15 339.5,165.71 340.5,167.18 341.5,168.65 342.5,168.44 343.5,169.32 344.5,170.35 345.5,170.59 346.5,170.53 347.5,171.98 348.5,171.67 349.5,171.07 350.5,172.29 351.5,172.82 352.5,172.92 353.5,172.02 354.5,174.34 355.5,174.49 356.5,173.78 357.5,176.58 358.5,176.97 359.5,177.08 360.5,176.94 361.5,178.39 362.5,179.07 363.5,180.74 364.5,180.69 365.5,181.6 366.5,181.93 367.5,181.79 368.5,182.81 369.5,183.92 370.5,184.37 371.5,184.51 372.5,184.56 373.5,186.17 374.5,185.94 375.5,185.44 376.5,186.39 377.5,187.02 378.5,187.03 379.5,186.89 380.5,187.73 381.5,187.72 382.5,187.29 383.5,188.01 384.5,188.2 385.5,188.45 386.5,188.39 387.5,188.5 388.5,188.63 389.5,188.82 390.5,188.9 391.5,188.9 391.5,188.9" fill="#a3a3a3" stroke="#a3a3a3" stroke-width="0.4"/>
<polyline points="340,188.9 341.5,188.9 343,188.9 344.5,188.9 346,188.9 347.5,188.9 349,188.9 350.5,188.9 352,188.9 353.5,188.9 355,188.9 356.5,188.9 358,188.9 359.5,188.9 361,188.9 362.5,188.9 364,188.9 365.5,188.9 367,188.9 368.5,188.9 370,188.87 371.5,188.72 373,188.59 374.5,188.89 376,188.47 377.5,188.21 379,188.46 380.5,188.04 382,187.87 383.5,187.21 385,187.04 386.5,186.16 388,185.04 389.5,184.05 391,181.47 392.5,180.82 394,179.03 395.5,177.54 397,174.45 398.5,173.68 400,170.03 401.5,167.31 403,164.43 404.5,161.93 406,157.46 407.5,157.05 409,153.49 410.5,151.32 412,151.33 413.5,150.81 415,147.74 416.5,147.07 418,149.52 419.5,147.2 421,149 422.5,148.05 424,154.12 425.5,155.83 427,157.16 428.5,159.61 430,162.19 431.5,161.45 433,164.68 434.5,166.8 436,169.49 437.5,168.75 439,171.81 440.5,174.79 442,176.02 443.5,176.63 445,176.07 446.5,178.22 448,180.46 449.5,180.91 451,182.07 452.5,183.37 454,182.42 455.5,182.95 457,183.65 458.5,184.82 460,184.63 461.5,185.38 463,186.01 464.5,186.59 466,186.42 467.5,187.15 469,186.82 470.5,187.42 472,187.83 473.5,187.89 475,187.84 476.5,187.61 478,188.14 479.5,188.28 481,188.42 482.5,188.64 484,188.45 485.5,188.62 487,188.66 488.5,188.86 490,188.9 491.5,188.9 493,188.9 494.5,188.9 496,188.9 497.5,188.9 499,188.9 500.5,188.9 502,188.9 503.5,188.9 505,188.9 506.5,188.9 508,188.9 509.5,188.9 511,188.9 512.5,188.9 514,188.9" fill="none" stroke="#9a9a9a" stroke-width="0.9" stroke-linejoin="round"/>
<polyline points="340,188.9 341.5,188.9 343,188.9 344.5,188.9 346,188.9 347.5,188.9 349,188.9 350.5,188.9 352,188.9 353.5,188.9 355,188.9 356.5,188.9 358,188.9 359.5,188.9 361,188.9 362.5,188.9 364,188.9 365.5,188.9 367,188.9 368.5,188.9 370,188.9 371.5,188.9 373,188.74 374.5,188.56 376,188.47 377.5,188.21 379,188.19 380.5,188.04 382,187.74 383.5,187.61 385,187.35 386.5,186.44 388,185.39 389.5,184.32 391,183.77 392.5,182.76 394,181.29 395.5,178.39 397,175.61 398.5,173.49 400,170.37 401.5,167.41 403,165.98 404.5,164.01 406,158.8 407.5,155.88 409,151.75 410.5,152.54 412,148.83 413.5,147.69 415,149.52 416.5,148.92 418,147.32 419.5,146.15 421,149.12 422.5,150.57 424,152.84 425.5,153.17 427,156.33 428.5,159.84 430,159.1 431.5,163.42 433,165.69 434.5,166.9 436,168.86 437.5,170.44 439,171.36 440.5,171.78 442,174 443.5,175.18 445,175.82 446.5,177.16 448,178.03 449.5,179.98 451,180.76 452.5,181.48 454,181.09 455.5,182.99 457,182.78 458.5,184.3 460,184.47 461.5,184.54 463,185.67 464.5,185.99 466,185.92 467.5,186.83 469,186.41 470.5,186.85 472,187.31 473.5,187.81 475,187.99 476.5,187.82 478,187.98 479.5,188.39 481,188.22 482.5,188.45 484,188.49 485.5,188.62 487,188.53 488.5,188.9 490,188.86 491.5,188.9 493,188.9 494.5,188.9 496,188.9 497.5,188.9 499,188.9 500.5,188.9 502,188.9 503.5,188.9 505,188.9 506.5,188.9 508,188.9 509.5,188.9 511,188.9 512.5,188.9 514,188.9" fill="none" stroke="#111" stroke-width="0.9" stroke-linejoin="round"/>
<text x="357.9" y="148.9" font-size="9.4" stroke="#111" stroke-width="0.16" textLength="26.9" lengthAdjust="spacingAndGlyphs">FGF-2</text>
<text x="387.7" y="148.9" font-size="9.4" stroke="#111" stroke-width="0.16" textLength="15.3" lengthAdjust="spacingAndGlyphs">100</text>
<text x="406" y="148.9" font-size="9.4" stroke="#111" stroke-width="0.16" textLength="4.8" lengthAdjust="spacingAndGlyphs">0</text>
<line x1="396.3" y1="150.4" x2="403" y2="163.8" stroke="#111" stroke-width="0.9"/>
<line x1="408.5" y1="150.4" x2="408.5" y2="154.2" stroke="#111" stroke-width="0.9"/>
<text x="265.9" y="221.8" font-size="17" font-weight="bold" fill="#000" textLength="11.8" lengthAdjust="spacingAndGlyphs">D</text>
<line x1="288.5" y1="223.9" x2="288.5" y2="266.6" stroke="#1a1a1a" stroke-width="1.6"/>
<line x1="286.1" y1="266" x2="288.5" y2="266" stroke="#222" stroke-width="0.8"/>
<line x1="286.8" y1="262" x2="288.5" y2="262" stroke="#222" stroke-width="0.8"/>
<line x1="286.8" y1="258" x2="288.5" y2="258" stroke="#222" stroke-width="0.8"/>
<line x1="286.8" y1="254" x2="288.5" y2="254" stroke="#222" stroke-width="0.8"/>
<line x1="286.8" y1="250" x2="288.5" y2="250" stroke="#222" stroke-width="0.8"/>
<line x1="286.8" y1="246" x2="288.5" y2="246" stroke="#222" stroke-width="0.8"/>
<line x1="286.8" y1="242" x2="288.5" y2="242" stroke="#222" stroke-width="0.8"/>
<line x1="286.8" y1="238" x2="288.5" y2="238" stroke="#222" stroke-width="0.8"/>
<line x1="286.8" y1="234" x2="288.5" y2="234" stroke="#222" stroke-width="0.8"/>
<line x1="286.8" y1="230" x2="288.5" y2="230" stroke="#222" stroke-width="0.8"/>
<line x1="286.1" y1="226" x2="288.5" y2="226" stroke="#222" stroke-width="0.8"/>
<line x1="287.9" y1="266" x2="513.5" y2="266" stroke="#1a1a1a" stroke-width="1.5"/>
<line x1="288.5" y1="266" x2="288.5" y2="268.6" stroke="#333" stroke-width="0.8"/>
<line x1="311.08" y1="266" x2="311.08" y2="267.6" stroke="#444" stroke-width="0.6"/>
<line x1="324.28" y1="266" x2="324.28" y2="267.6" stroke="#444" stroke-width="0.6"/>
<line x1="333.65" y1="266" x2="333.65" y2="267.6" stroke="#444" stroke-width="0.6"/>
<line x1="340.92" y1="266" x2="340.92" y2="267.6" stroke="#444" stroke-width="0.6"/>
<line x1="346.86" y1="266" x2="346.86" y2="267.6" stroke="#444" stroke-width="0.6"/>
<line x1="351.88" y1="266" x2="351.88" y2="267.6" stroke="#444" stroke-width="0.6"/>
<line x1="356.23" y1="266" x2="356.23" y2="267.6" stroke="#444" stroke-width="0.6"/>
<line x1="360.07" y1="266" x2="360.07" y2="267.6" stroke="#444" stroke-width="0.6"/>
<line x1="363.5" y1="266" x2="363.5" y2="268.6" stroke="#333" stroke-width="0.8"/>
<line x1="386.08" y1="266" x2="386.08" y2="267.6" stroke="#444" stroke-width="0.6"/>
<line x1="399.28" y1="266" x2="399.28" y2="267.6" stroke="#444" stroke-width="0.6"/>
<line x1="408.65" y1="266" x2="408.65" y2="267.6" stroke="#444" stroke-width="0.6"/>
<line x1="415.92" y1="266" x2="415.92" y2="267.6" stroke="#444" stroke-width="0.6"/>
<line x1="421.86" y1="266" x2="421.86" y2="267.6" stroke="#444" stroke-width="0.6"/>
<line x1="426.88" y1="266" x2="426.88" y2="267.6" stroke="#444" stroke-width="0.6"/>
<line x1="431.23" y1="266" x2="431.23" y2="267.6" stroke="#444" stroke-width="0.6"/>
<line x1="435.07" y1="266" x2="435.07" y2="267.6" stroke="#444" stroke-width="0.6"/>
<line x1="438.5" y1="266" x2="438.5" y2="268.6" stroke="#333" stroke-width="0.8"/>
<line x1="461.08" y1="266" x2="461.08" y2="267.6" stroke="#444" stroke-width="0.6"/>
<line x1="474.28" y1="266" x2="474.28" y2="267.6" stroke="#444" stroke-width="0.6"/>
<line x1="483.65" y1="266" x2="483.65" y2="267.6" stroke="#444" stroke-width="0.6"/>
<line x1="490.92" y1="266" x2="490.92" y2="267.6" stroke="#444" stroke-width="0.6"/>
<line x1="496.86" y1="266" x2="496.86" y2="267.6" stroke="#444" stroke-width="0.6"/>
<line x1="501.88" y1="266" x2="501.88" y2="267.6" stroke="#444" stroke-width="0.6"/>
<line x1="506.23" y1="266" x2="506.23" y2="267.6" stroke="#444" stroke-width="0.6"/>
<line x1="510.07" y1="266" x2="510.07" y2="267.6" stroke="#444" stroke-width="0.6"/>
<line x1="513.5" y1="266" x2="513.5" y2="268.6" stroke="#333" stroke-width="0.8"/>
<text x="283.3" y="275.7" font-size="7.2" fill="#222" textLength="6.2" lengthAdjust="spacingAndGlyphs">10</text>
<text x="290.1" y="272.2" font-size="6.2" fill="#222" textLength="2.8" lengthAdjust="spacingAndGlyphs">0</text>
<text x="358.3" y="275.7" font-size="7.2" fill="#222" textLength="6.2" lengthAdjust="spacingAndGlyphs">10</text>
<text x="365.1" y="272.2" font-size="6.2" fill="#222" textLength="2.8" lengthAdjust="spacingAndGlyphs">1</text>
<text x="433.3" y="275.7" font-size="7.2" fill="#222" textLength="6.2" lengthAdjust="spacingAndGlyphs">10</text>
<text x="440.1" y="272.2" font-size="6.2" fill="#222" textLength="2.8" lengthAdjust="spacingAndGlyphs">2</text>
<text x="508.3" y="275.7" font-size="7.2" fill="#222" textLength="6.2" lengthAdjust="spacingAndGlyphs">10</text>
<text x="515.1" y="272.2" font-size="6.2" fill="#222" textLength="2.8" lengthAdjust="spacingAndGlyphs">3</text>
<text x="283.9" y="266" font-size="6.2" text-anchor="middle" transform="rotate(-90 283.9 266)">0</text>
<text x="283.9" y="226" font-size="6.2" text-anchor="middle" textLength="8.8" lengthAdjust="spacingAndGlyphs" transform="rotate(-90 283.9 226)">150</text>
<text x="276.7" y="246.45" font-size="6.3" text-anchor="middle" textLength="19" lengthAdjust="spacingAndGlyphs" transform="rotate(-90 276.7 246.45)">Counts</text>
<polygon points="290,266 290,266 291,265.87 292,265.79 293,265.73 294,265.63 295,265.13 296,265.26 297,264.89 298,264.81 299,264.11 300,263.96 301,263.46 302,262.74 303,262.72 304,260.81 305,259.75 306,258.01 307,257.43 308,256.15 309,253.56 310,252.48 311,251 312,248.46 313,248.12 314,244.87 315,242.84 316,238.74 317,237.74 318,238.41 319,235.26 320,234.52 321,232.94 322,230.45 323,232.02 324,228.26 325,229.46 326,230.59 327,230.14 328,230.12 329,230.88 330,232.43 331,233.9 332,234.02 333,234.77 334,234.53 335,239.25 336,238.75 337,240.08 338,243.01 339,242.91 340,246.28 341,247.15 342,248.21 343,247.96 344,250.7 345,251.95 346,251.02 347,252.62 348,255.76 349,255.74 350,256.92 351,257.74 352,257.53 353,258.54 354,258.94 355,260.52 356,261.71 357,261.31 358,261.37 359,262.71 360,262.78 361,263.02 362,263.27 363,263.03 364,264.08 365,263.71 366,263.73 367,264.36 368,264.48 369,264.7 370,264.82 371,264.87 372,264.86 373,264.93 374,265.39 375,265.3 376,265.28 377,265.89 378,265.6 379,265.84 380,266 380,266" fill="#a3a3a3" stroke="#a3a3a3" stroke-width="0.4"/>
<polyline points="290,266 291.5,266 293,266 294.5,266 296,265.84 297.5,265.21 299,265.15 300.5,264.42 302,263.23 303.5,263.5 305,261.75 306.5,260.83 308,258.74 309.5,256.21 311,252.22 312.5,253.53 314,250.01 315.5,247.1 317,242.5 318.5,241.62 320,241.5 321.5,240.07 323,236.8 324.5,235.51 326,236.78 327.5,236.24 329,237.18 330.5,234.5 332,235.26 333.5,237.59 335,237.37 336.5,238.88 338,236.72 339.5,238.02 341,238.79 342.5,239.4 344,239.15 345.5,242.15 347,241.89 348.5,242.11 350,243.27 351.5,242.87 353,245.07 354.5,245.72 356,246.93 357.5,247.86 359,248.7 360.5,245.58 362,247.91 363.5,251.05 365,250.04 366.5,252.42 368,252.06 369.5,253.53 371,256.01 372.5,256.53 374,256.35 375.5,256.63 377,256.48 378.5,258.2 380,258.05 381.5,259.39 383,259.36 384.5,259.13 386,259.6 387.5,259.91 389,261.81 390.5,261.52 392,260.96 393.5,261.98 395,262.02 396.5,261.66 398,262.84 399.5,263.34 401,263.89 402.5,264.38 404,263.91 405.5,264.62 407,264.65 408.5,265.45 410,264.92 411.5,265.56 413,265.8 414.5,265.74 416,265.82 417.5,265.9 419,265.95 420.5,266 422,266 423.5,266 425,266 426.5,266 428,266 429.5,266 431,266 432.5,266 434,266 435.5,266 437,266 438.5,266 440,266 441.5,266 443,266 444.5,266 446,266 447.5,266 449,266 450.5,266 452,266 453.5,266 455,266 456.5,266 458,266 459.5,266 461,266 462.5,266 464,266 465.5,266 467,266 468.5,266 470,266 471.5,266 473,266 474.5,266 476,266 477.5,266 479,266 480.5,266 482,266 483.5,266 485,266 486.5,266 488,266 489.5,266 491,266 492.5,266 494,266 495.5,266 497,266 498.5,266 500,266 501.5,266 503,266 504.5,266 506,266 507.5,266 509,266 510.5,266 512,266 513.5,266" fill="none" stroke="#a6a6a6" stroke-width="0.9" stroke-linejoin="round"/>
<polyline points="290,266 291.5,266 293,266 294.5,266 296,265.65 297.5,265.51 299,265.2 300.5,264.6 302,263.57 303.5,262.65 305,261.7 306.5,260.33 308,258.82 309.5,256.78 311,255.17 312.5,252.97 314,251.3 315.5,249.18 317,245.5 318.5,245.76 320,243.28 321.5,243.56 323,240.96 324.5,242.85 326,239.13 327.5,239.34 329,239.32 330.5,238.14 332,238.71 333.5,237.6 335,239.39 336.5,240.3 338,239.33 339.5,238.87 341,241.06 342.5,241.69 344,241.91 345.5,243.71 347,242.66 348.5,244.67 350,245.36 351.5,245.83 353,248.4 354.5,247.11 356,247.33 357.5,250.91 359,252.82 360.5,251.66 362,252.82 363.5,254.07 365,254.59 366.5,255.56 368,255.1 369.5,256.62 371,256.1 372.5,258.45 374,259.04 375.5,259.48 377,260.01 378.5,258.76 380,260.56 381.5,260.73 383,260.55 384.5,261.61 386,262.03 387.5,262.32 389,263.53 390.5,262.62 392,263.24 393.5,263.78 395,264.3 396.5,263.47 398,264.59 399.5,265 401,264.72 402.5,264.91 404,265.24 405.5,265.44 407,265.6 408.5,265.76 410,265.78 411.5,265.96 413,266 414.5,266 416,266 417.5,266 419,266 420.5,266 422,266 423.5,266 425,266 426.5,266 428,266 429.5,266 431,266 432.5,266 434,266 435.5,266 437,266 438.5,266 440,266 441.5,266 443,266 444.5,266 446,266 447.5,266 449,266 450.5,266 452,266 453.5,266 455,266 456.5,266 458,266 459.5,266 461,266 462.5,266 464,266 465.5,266 467,266 468.5,266 470,266 471.5,266 473,266 474.5,266 476,266 477.5,266 479,266 480.5,266 482,266 483.5,266 485,266 486.5,266 488,266 489.5,266 491,266 492.5,266 494,266 495.5,266 497,266 498.5,266 500,266 501.5,266 503,266 504.5,266 506,266 507.5,266 509,266 510.5,266 512,266 513.5,266" fill="none" stroke="#979797" stroke-width="0.9" stroke-linejoin="round"/>
<polyline points="290,266 291.5,266 293,266 294.5,266 296,265.9 297.5,265.67 299,265.49 300.5,265.08 302,264.81 303.5,264.77 305,264.24 306.5,264.2 308,263.19 309.5,263.82 311,262.35 312.5,261.79 314,262.26 315.5,260.06 317,260.7 318.5,258.62 320,257.75 321.5,256.07 323,254.84 324.5,251.4 326,249.37 327.5,247.41 329,246.43 330.5,245.17 332,243.37 333.5,242.47 335,239.76 336.5,239.97 338,240.98 339.5,243.44 341,245.89 342.5,247.5 344,250.41 345.5,251.13 347,253.59 348.5,255.65 350,257.12 351.5,257.94 353,259.08 354.5,260.47 356,261.07 357.5,262.42 359,261.87 360.5,263.42 362,262.84 363.5,263.97 365,264.81 366.5,264.87 368,264.74 369.5,265.05 371,265.5 372.5,265.94 374,265.79 375.5,265.95 377,266 378.5,266 380,266 381.5,266 383,266 384.5,266 386,266 387.5,266 389,266 390.5,266 392,266 393.5,266 395,266 396.5,266 398,266 399.5,266 401,266 402.5,266 404,266 405.5,266 407,266 408.5,266 410,266 411.5,266 413,266 414.5,266 416,266 417.5,266 419,266 420.5,266 422,266 423.5,266 425,266 426.5,266 428,266 429.5,266 431,266 432.5,266 434,266 435.5,266 437,266 438.5,266 440,266 441.5,266 443,266 444.5,266 446,266 447.5,266 449,266 450.5,266 452,266 453.5,266 455,266 456.5,266 458,266 459.5,266 461,266 462.5,266 464,266 465.5,266 467,266 468.5,266 470,266 471.5,266 473,266 474.5,266 476,266 477.5,266 479,266 480.5,266 482,266 483.5,266 485,266 486.5,266 488,266 489.5,266 491,266 492.5,266 494,266 495.5,266 497,266 498.5,266 500,266 501.5,266 503,266 504.5,266 506,266 507.5,266 509,266 510.5,266 512,266 513.5,266" fill="none" stroke="#555" stroke-width="0.9" stroke-linejoin="round"/>
<polyline points="290,266 291.5,265.86 293,265.85 294.5,265.32 296,265.2 297.5,264.67 299,264.33 300.5,263.79 302,262.68 303.5,261.32 305,260.13 306.5,258.54 308,255.88 309.5,254.7 311,251.45 312.5,247.54 314,243.68 315.5,243.04 317,237.89 318.5,237.36 320,234.35 321.5,232.04 323,229.06 324.5,232.46 326,232.52 327.5,232.87 329,233.43 330.5,233.11 332,234.12 333.5,238.27 335,241.14 336.5,241.15 338,242.99 339.5,245.94 341,246.3 342.5,249.54 344,251.01 345.5,252.82 347,253.26 348.5,255.06 350,256.96 351.5,257.1 353,258.21 354.5,260.28 356,261.13 357.5,261.71 359,262.02 360.5,263.63 362,263.47 363.5,263.9 365,264.24 366.5,264.52 368,264.88 369.5,264.87 371,265.02 372.5,265.58 374,265.48 375.5,265.58 377,265.57 378.5,265.7 380,266 381.5,266 383,266 384.5,266 386,266 387.5,266 389,266 390.5,266 392,266 393.5,266 395,266 396.5,266 398,266 399.5,266 401,266 402.5,266 404,266 405.5,266 407,266 408.5,266 410,266 411.5,266 413,266 414.5,266 416,266 417.5,266 419,266 420.5,266 422,266 423.5,266 425,266 426.5,266 428,266 429.5,266 431,266 432.5,266 434,266 435.5,266 437,266 438.5,266 440,266 441.5,266 443,266 444.5,266 446,266 447.5,266 449,266 450.5,266 452,266 453.5,266 455,266 456.5,266 458,266 459.5,266 461,266 462.5,266 464,266 465.5,266 467,266 468.5,266 470,266 471.5,266 473,266 474.5,266 476,266 477.5,266 479,266 480.5,266 482,266 483.5,266 485,266 486.5,266 488,266 489.5,266 491,266 492.5,266 494,266 495.5,266 497,266 498.5,266 500,266 501.5,266 503,266 504.5,266 506,266 507.5,266 509,266 510.5,266 512,266 513.5,266" fill="none" stroke="#333" stroke-width="0.9" stroke-linejoin="round"/>
<text x="304.2" y="225.7" font-size="9.4" stroke="#111" stroke-width="0.16" textLength="24.4" lengthAdjust="spacingAndGlyphs">VEGF</text>
<text x="329.2" y="227.8" font-size="8.6" stroke="#111" stroke-width="0.16" textLength="14.2" lengthAdjust="spacingAndGlyphs">165</text>
<text x="345.5" y="226" font-size="9.4" stroke="#111" stroke-width="0.16" textLength="15.8" lengthAdjust="spacingAndGlyphs">250</text>
<text x="364.5" y="226" font-size="9.4" stroke="#111" stroke-width="0.16" textLength="10.6" lengthAdjust="spacingAndGlyphs">25</text>
<text x="377.2" y="226" font-size="9.4" stroke="#111" stroke-width="0.16" textLength="12.7" lengthAdjust="spacingAndGlyphs">2.5</text>
<text x="396.3" y="226" font-size="9.4" stroke="#111" stroke-width="0.16" textLength="4.8" lengthAdjust="spacingAndGlyphs">0</text>
<line x1="351.8" y1="227.3" x2="331.7" y2="231.9" stroke="#111" stroke-width="0.9"/>
<line x1="369.8" y1="227.3" x2="338.1" y2="236.6" stroke="#111" stroke-width="0.9"/>
<line x1="383.6" y1="227.3" x2="358.2" y2="247.8" stroke="#111" stroke-width="0.9"/>
<line x1="398.4" y1="227.3" x2="398.4" y2="258.8" stroke="#111" stroke-width="0.9"/>
<line x1="288.5" y1="287.9" x2="288.5" y2="331.5" stroke="#1a1a1a" stroke-width="1.6"/>
<line x1="286.1" y1="330.9" x2="288.5" y2="330.9" stroke="#222" stroke-width="0.8"/>
<line x1="286.8" y1="326.71" x2="288.5" y2="326.71" stroke="#222" stroke-width="0.8"/>
<line x1="286.8" y1="322.52" x2="288.5" y2="322.52" stroke="#222" stroke-width="0.8"/>
<line x1="286.8" y1="318.33" x2="288.5" y2="318.33" stroke="#222" stroke-width="0.8"/>
<line x1="286.8" y1="314.14" x2="288.5" y2="314.14" stroke="#222" stroke-width="0.8"/>
<line x1="286.8" y1="309.95" x2="288.5" y2="309.95" stroke="#222" stroke-width="0.8"/>
<line x1="286.8" y1="305.76" x2="288.5" y2="305.76" stroke="#222" stroke-width="0.8"/>
<line x1="286.8" y1="301.57" x2="288.5" y2="301.57" stroke="#222" stroke-width="0.8"/>
<line x1="286.8" y1="297.38" x2="288.5" y2="297.38" stroke="#222" stroke-width="0.8"/>
<line x1="286.8" y1="293.19" x2="288.5" y2="293.19" stroke="#222" stroke-width="0.8"/>
<line x1="286.1" y1="289" x2="288.5" y2="289" stroke="#222" stroke-width="0.8"/>
<line x1="287.9" y1="330.9" x2="513.5" y2="330.9" stroke="#1a1a1a" stroke-width="1.5"/>
<line x1="288.5" y1="330.9" x2="288.5" y2="333.5" stroke="#333" stroke-width="0.8"/>
<line x1="311.08" y1="330.9" x2="311.08" y2="332.5" stroke="#444" stroke-width="0.6"/>
<line x1="324.28" y1="330.9" x2="324.28" y2="332.5" stroke="#444" stroke-width="0.6"/>
<line x1="333.65" y1="330.9" x2="333.65" y2="332.5" stroke="#444" stroke-width="0.6"/>
<line x1="340.92" y1="330.9" x2="340.92" y2="332.5" stroke="#444" stroke-width="0.6"/>
<line x1="346.86" y1="330.9" x2="346.86" y2="332.5" stroke="#444" stroke-width="0.6"/>
<line x1="351.88" y1="330.9" x2="351.88" y2="332.5" stroke="#444" stroke-width="0.6"/>
<line x1="356.23" y1="330.9" x2="356.23" y2="332.5" stroke="#444" stroke-width="0.6"/>
<line x1="360.07" y1="330.9" x2="360.07" y2="332.5" stroke="#444" stroke-width="0.6"/>
<line x1="363.5" y1="330.9" x2="363.5" y2="333.5" stroke="#333" stroke-width="0.8"/>
<line x1="386.08" y1="330.9" x2="386.08" y2="332.5" stroke="#444" stroke-width="0.6"/>
<line x1="399.28" y1="330.9" x2="399.28" y2="332.5" stroke="#444" stroke-width="0.6"/>
<line x1="408.65" y1="330.9" x2="408.65" y2="332.5" stroke="#444" stroke-width="0.6"/>
<line x1="415.92" y1="330.9" x2="415.92" y2="332.5" stroke="#444" stroke-width="0.6"/>
<line x1="421.86" y1="330.9" x2="421.86" y2="332.5" stroke="#444" stroke-width="0.6"/>
<line x1="426.88" y1="330.9" x2="426.88" y2="332.5" stroke="#444" stroke-width="0.6"/>
<line x1="431.23" y1="330.9" x2="431.23" y2="332.5" stroke="#444" stroke-width="0.6"/>
<line x1="435.07" y1="330.9" x2="435.07" y2="332.5" stroke="#444" stroke-width="0.6"/>
<line x1="438.5" y1="330.9" x2="438.5" y2="333.5" stroke="#333" stroke-width="0.8"/>
<line x1="461.08" y1="330.9" x2="461.08" y2="332.5" stroke="#444" stroke-width="0.6"/>
<line x1="474.28" y1="330.9" x2="474.28" y2="332.5" stroke="#444" stroke-width="0.6"/>
<line x1="483.65" y1="330.9" x2="483.65" y2="332.5" stroke="#444" stroke-width="0.6"/>
<line x1="490.92" y1="330.9" x2="490.92" y2="332.5" stroke="#444" stroke-width="0.6"/>
<line x1="496.86" y1="330.9" x2="496.86" y2="332.5" stroke="#444" stroke-width="0.6"/>
<line x1="501.88" y1="330.9" x2="501.88" y2="332.5" stroke="#444" stroke-width="0.6"/>
<line x1="506.23" y1="330.9" x2="506.23" y2="332.5" stroke="#444" stroke-width="0.6"/>
<line x1="510.07" y1="330.9" x2="510.07" y2="332.5" stroke="#444" stroke-width="0.6"/>
<line x1="513.5" y1="330.9" x2="513.5" y2="333.5" stroke="#333" stroke-width="0.8"/>
<text x="283.3" y="340.6" font-size="7.2" fill="#222" textLength="6.2" lengthAdjust="spacingAndGlyphs">10</text>
<text x="290.1" y="337.1" font-size="6.2" fill="#222" textLength="2.8" lengthAdjust="spacingAndGlyphs">0</text>
<text x="358.3" y="340.6" font-size="7.2" fill="#222" textLength="6.2" lengthAdjust="spacingAndGlyphs">10</text>
<text x="365.1" y="337.1" font-size="6.2" fill="#222" textLength="2.8" lengthAdjust="spacingAndGlyphs">1</text>
<text x="433.3" y="340.6" font-size="7.2" fill="#222" textLength="6.2" lengthAdjust="spacingAndGlyphs">10</text>
<text x="440.1" y="337.1" font-size="6.2" fill="#222" textLength="2.8" lengthAdjust="spacingAndGlyphs">2</text>
<text x="508.3" y="340.6" font-size="7.2" fill="#222" textLength="6.2" lengthAdjust="spacingAndGlyphs">10</text>
<text x="515.1" y="337.1" font-size="6.2" fill="#222" textLength="2.8" lengthAdjust="spacingAndGlyphs">3</text>
<text x="283.9" y="330.9" font-size="6.2" text-anchor="middle" transform="rotate(-90 283.9 330.9)">0</text>
<text x="283.9" y="289" font-size="6.2" text-anchor="middle" textLength="8.8" lengthAdjust="spacingAndGlyphs" transform="rotate(-90 283.9 289)">150</text>
<text x="276.7" y="310.9" font-size="6.3" text-anchor="middle" textLength="19" lengthAdjust="spacingAndGlyphs" transform="rotate(-90 276.7 310.9)">Counts</text>
<text x="371.8" y="350.1" font-size="9.0" stroke="#111" stroke-width="0.16" textLength="36" lengthAdjust="spacingAndGlyphs">Sema3A</text>
<line x1="408.8" y1="347.1" x2="427.8" y2="347.1" stroke="#111" stroke-width="1.5"/>
<polygon points="425,344.2 435.1,347.1 425,350 426,347.1" fill="#111"/>
<polygon points="290,330.9 290,330.9 291,330.84 292,330.74 293,330.39 294,330.53 295,330.45 296,329.87 297,329.5 298,328.93 299,328.74 300,327.7 301,327.4 302,326.07 303,326.09 304,325.45 305,324.1 306,323.43 307,323.25 308,321.25 309,320.8 310,318.16 311,317.53 312,314.62 313,313.08 314,309.8 315,306.48 316,304.18 317,303.59 318,302.38 319,298.61 320,298.55 321,297.33 322,294.58 323,295.55 324,292.21 325,291.24 326,292.46 327,294.25 328,294.58 329,293.76 330,295.99 331,295.52 332,297.5 333,298.25 334,299.32 335,300.87 336,302.35 337,303.47 338,304.79 339,307.7 340,310.06 341,311.38 342,313 343,315.16 344,314.9 345,316.67 346,316 347,318.62 348,320.01 349,319.64 350,320.57 351,320.7 352,321.7 353,321.35 354,323.28 355,323.34 356,324.19 357,324.7 358,325.69 359,325.14 360,326.53 361,326.14 362,326.55 363,326.98 364,328.03 365,327.56 366,328.34 367,328.31 368,328.8 369,328.46 370,329.34 371,329.47 372,329.54 373,330.04 374,329.97 375,330.04 376,330.07 377,330.26 378,330.05 379,330.13 380,330.32 381,330.56 382,330.57 383,330.52 384,330.64 385,330.8 386,330.9 386,330.9" fill="#a3a3a3" stroke="#a3a3a3" stroke-width="0.4"/>
<polyline points="290,330.9 291.5,330.9 293,330.89 294.5,330.77 296,330.66 297.5,330.61 299,330.44 300.5,330.6 302,330.45 303.5,330.35 305,330.14 306.5,329.44 308,329.33 309.5,329.33 311,328.96 312.5,327.85 314,328.02 315.5,326.94 317,325.46 318.5,323.92 320,322.68 321.5,322.4 323,321.41 324.5,319.75 326,317.06 327.5,315.69 329,313.3 330.5,312.14 332,310.58 333.5,311.24 335,310.17 336.5,308.35 338,307.64 339.5,308.63 341,306.39 342.5,309.35 344,307.88 345.5,308.97 347,307.96 348.5,308.17 350,309.23 351.5,308.79 353,308.1 354.5,310.28 356,310.53 357.5,310.92 359,310.52 360.5,311.4 362,312.59 363.5,311.02 365,313.69 366.5,315.63 368,314.1 369.5,316.58 371,316.16 372.5,316.74 374,319.22 375.5,320.11 377,319.21 378.5,321.85 380,322.17 381.5,322.51 383,323.1 384.5,322.47 386,323.85 387.5,325.27 389,323.95 390.5,324.78 392,325.53 393.5,324.9 395,325.65 396.5,326.02 398,326.92 399.5,326.94 401,326.6 402.5,327.25 404,327.88 405.5,328.55 407,328.17 408.5,328.52 410,328.51 411.5,328.84 413,329.02 414.5,329.46 416,329.58 417.5,329.96 419,329.97 420.5,330.11 422,330.25 423.5,330.54 425,330.48 426.5,330.64 428,330.81 429.5,330.81 431,330.9 432.5,330.9 434,330.9 435.5,330.9 437,330.9 438.5,330.9 440,330.9 441.5,330.9 443,330.9 444.5,330.9 446,330.9 447.5,330.9 449,330.9 450.5,330.9 452,330.9 453.5,330.9 455,330.9 456.5,330.9 458,330.9 459.5,330.9 461,330.9 462.5,330.9 464,330.9 465.5,330.9 467,330.9 468.5,330.9 470,330.9 471.5,330.9 473,330.9 474.5,330.9 476,330.9 477.5,330.9 479,330.9 480.5,330.9 482,330.9 483.5,330.9 485,330.9 486.5,330.9 488,330.9 489.5,330.9 491,330.9 492.5,330.9 494,330.9 495.5,330.9 497,330.9 498.5,330.9 500,330.9 501.5,330.9 503,330.9 504.5,330.9 506,330.9 507.5,330.9 509,330.9 510.5,330.9 512,330.9 513.5,330.9" fill="none" stroke="#555" stroke-width="0.9" stroke-linejoin="round"/>
<polyline points="290,330.9 291.5,330.9 293,330.8 294.5,330.79 296,330.74 297.5,330.81 299,330.53 300.5,330.35 302,330.32 303.5,330.11 305,330.15 306.5,329.18 308,329.11 309.5,328.95 311,328.23 312.5,327.74 314,327.03 315.5,326.18 317,324.95 318.5,323.57 320,322.06 321.5,320.51 323,319.17 324.5,317.13 326,316.43 327.5,316.07 329,314.53 330.5,311.01 332,312.07 333.5,309.98 335,308.18 336.5,306.76 338,309.64 339.5,308.5 341,308.07 342.5,308.01 344,307.44 345.5,306.94 347,307.46 348.5,305.49 350,306.99 351.5,310.18 353,310.56 354.5,309.53 356,309.76 357.5,308.57 359,309.26 360.5,309.42 362,310.84 363.5,311.29 365,312.36 366.5,313.9 368,314.18 369.5,316.91 371,316.02 372.5,317.27 374,316.41 375.5,319.42 377,321.2 378.5,321.25 380,321.61 381.5,322.61 383,323.5 384.5,323.57 386,324.68 387.5,323.74 389,325.58 390.5,324.86 392,325.01 393.5,325.61 395,325.48 396.5,326.23 398,326.33 399.5,327.37 401,327.81 402.5,327.8 404,327.82 405.5,327.81 407,328.83 408.5,328.88 410,329.15 411.5,328.91 413,329.51 414.5,329.29 416,329.85 417.5,330.1 419,330.25 420.5,330.55 422,330.79 423.5,330.56 425,330.67 426.5,330.46 428,330.74 429.5,330.87 431,330.9 432.5,330.9 434,330.9 435.5,330.9 437,330.9 438.5,330.9 440,330.9 441.5,330.9 443,330.9 444.5,330.9 446,330.9 447.5,330.9 449,330.9 450.5,330.9 452,330.9 453.5,330.9 455,330.9 456.5,330.9 458,330.9 459.5,330.9 461,330.9 462.5,330.9 464,330.9 465.5,330.9 467,330.9 468.5,330.9 470,330.9 471.5,330.9 473,330.9 474.5,330.9 476,330.9 477.5,330.9 479,330.9 480.5,330.9 482,330.9 483.5,330.9 485,330.9 486.5,330.9 488,330.9 489.5,330.9 491,330.9 492.5,330.9 494,330.9 495.5,330.9 497,330.9 498.5,330.9 500,330.9 501.5,330.9 503,330.9 504.5,330.9 506,330.9 507.5,330.9 509,330.9 510.5,330.9 512,330.9 513.5,330.9" fill="none" stroke="#111" stroke-width="0.9" stroke-linejoin="round"/>
<text x="312.7" y="288.2" font-size="9.4" stroke="#111" stroke-width="0.16" textLength="24" lengthAdjust="spacingAndGlyphs">VEGF</text>
<text x="339.6" y="290.9" font-size="8.6" stroke="#111" stroke-width="0.16" textLength="11.6" lengthAdjust="spacingAndGlyphs">121</text>
<text x="355" y="288.5" font-size="9.4" stroke="#111" stroke-width="0.16" textLength="15.4" lengthAdjust="spacingAndGlyphs">250</text>
<text x="373.3" y="288.5" font-size="9.4" stroke="#111" stroke-width="0.16" textLength="5" lengthAdjust="spacingAndGlyphs">0</text>
<line x1="362.1" y1="290.5" x2="362.1" y2="307.7" stroke="#111" stroke-width="0.9"/>
<line x1="375.2" y1="290.5" x2="375.2" y2="317" stroke="#111" stroke-width="0.9"/>
<text x="265.9" y="370.3" font-size="17" font-weight="bold" fill="#000" textLength="10.4" lengthAdjust="spacingAndGlyphs">E</text>
<line x1="288.5" y1="365.8" x2="288.5" y2="409.6" stroke="#1a1a1a" stroke-width="1.6"/>
<line x1="286.1" y1="409" x2="288.5" y2="409" stroke="#222" stroke-width="0.8"/>
<line x1="286.8" y1="404.68" x2="288.5" y2="404.68" stroke="#222" stroke-width="0.8"/>
<line x1="286.8" y1="400.36" x2="288.5" y2="400.36" stroke="#222" stroke-width="0.8"/>
<line x1="286.8" y1="396.04" x2="288.5" y2="396.04" stroke="#222" stroke-width="0.8"/>
<line x1="286.8" y1="391.72" x2="288.5" y2="391.72" stroke="#222" stroke-width="0.8"/>
<line x1="286.8" y1="387.4" x2="288.5" y2="387.4" stroke="#222" stroke-width="0.8"/>
<line x1="286.8" y1="383.08" x2="288.5" y2="383.08" stroke="#222" stroke-width="0.8"/>
<line x1="286.8" y1="378.76" x2="288.5" y2="378.76" stroke="#222" stroke-width="0.8"/>
<line x1="286.8" y1="374.44" x2="288.5" y2="374.44" stroke="#222" stroke-width="0.8"/>
<line x1="286.8" y1="370.12" x2="288.5" y2="370.12" stroke="#222" stroke-width="0.8"/>
<line x1="286.1" y1="365.8" x2="288.5" y2="365.8" stroke="#222" stroke-width="0.8"/>
<line x1="287.9" y1="409" x2="513.5" y2="409" stroke="#1a1a1a" stroke-width="1.5"/>
<line x1="288.5" y1="409" x2="288.5" y2="411.6" stroke="#333" stroke-width="0.8"/>
<line x1="322.37" y1="409" x2="322.37" y2="410.6" stroke="#444" stroke-width="0.6"/>
<line x1="342.18" y1="409" x2="342.18" y2="410.6" stroke="#444" stroke-width="0.6"/>
<line x1="356.23" y1="409" x2="356.23" y2="410.6" stroke="#444" stroke-width="0.6"/>
<line x1="367.13" y1="409" x2="367.13" y2="410.6" stroke="#444" stroke-width="0.6"/>
<line x1="376.04" y1="409" x2="376.04" y2="410.6" stroke="#444" stroke-width="0.6"/>
<line x1="383.57" y1="409" x2="383.57" y2="410.6" stroke="#444" stroke-width="0.6"/>
<line x1="390.1" y1="409" x2="390.1" y2="410.6" stroke="#444" stroke-width="0.6"/>
<line x1="395.85" y1="409" x2="395.85" y2="410.6" stroke="#444" stroke-width="0.6"/>
<line x1="401" y1="409" x2="401" y2="411.6" stroke="#333" stroke-width="0.8"/>
<line x1="434.87" y1="409" x2="434.87" y2="410.6" stroke="#444" stroke-width="0.6"/>
<line x1="454.68" y1="409" x2="454.68" y2="410.6" stroke="#444" stroke-width="0.6"/>
<line x1="468.73" y1="409" x2="468.73" y2="410.6" stroke="#444" stroke-width="0.6"/>
<line x1="479.63" y1="409" x2="479.63" y2="410.6" stroke="#444" stroke-width="0.6"/>
<line x1="488.54" y1="409" x2="488.54" y2="410.6" stroke="#444" stroke-width="0.6"/>
<line x1="496.07" y1="409" x2="496.07" y2="410.6" stroke="#444" stroke-width="0.6"/>
<line x1="502.6" y1="409" x2="502.6" y2="410.6" stroke="#444" stroke-width="0.6"/>
<line x1="508.35" y1="409" x2="508.35" y2="410.6" stroke="#444" stroke-width="0.6"/>
<line x1="513.5" y1="409" x2="513.5" y2="411.6" stroke="#333" stroke-width="0.8"/>
<text x="283.3" y="418.7" font-size="7.2" fill="#222" textLength="6.2" lengthAdjust="spacingAndGlyphs">10</text>
<text x="290.1" y="415.2" font-size="6.2" fill="#222" textLength="2.8" lengthAdjust="spacingAndGlyphs">0</text>
<text x="395.8" y="418.7" font-size="7.2" fill="#222" textLength="6.2" lengthAdjust="spacingAndGlyphs">10</text>
<text x="402.6" y="415.2" font-size="6.2" fill="#222" textLength="2.8" lengthAdjust="spacingAndGlyphs">1</text>
<text x="508.3" y="418.7" font-size="7.2" fill="#222" textLength="6.2" lengthAdjust="spacingAndGlyphs">10</text>
<text x="515.1" y="415.2" font-size="6.2" fill="#222" textLength="2.8" lengthAdjust="spacingAndGlyphs">2</text>
<text x="283.9" y="409" font-size="6.2" text-anchor="middle" transform="rotate(-90 283.9 409)">0</text>
<text x="283.9" y="365.8" font-size="6.2" text-anchor="middle" textLength="8.8" lengthAdjust="spacingAndGlyphs" transform="rotate(-90 283.9 365.8)">300</text>
<text x="276.7" y="388.9" font-size="6.3" text-anchor="middle" textLength="19" lengthAdjust="spacingAndGlyphs" transform="rotate(-90 276.7 388.9)">Counts</text>
<polygon points="289,409 289,409 290,403.55 291,405.13 292,406.72 293,407.06 294,407.14 295,406.45 296,406.41 297,406.11 298,406.21 299,405.55 300,405.44 301,405.15 302,404.54 303,403.46 304,402.74 305,401.13 306,400.39 307,399.92 308,398.28 309,397.77 310,395.95 311,395.14 312,393.89 313,392.1 314,389.4 315,389.87 316,387.03 317,385.5 318,384.78 319,382.48 320,381.02 321,377.49 322,378.49 323,377.56 324,374.92 325,375.09 326,372.15 327,374.04 328,372.85 329,372.83 330,371.49 331,369.51 332,369.3 333,370.29 334,370.96 335,372.26 336,370.2 337,370.54 338,371.67 339,371.64 340,375.14 341,377.73 342,380.41 343,380.82 344,381.21 345,381.52 346,383.92 347,386.15 348,384.64 349,385.39 350,388.7 351,388.03 352,391.86 353,390.75 354,393.83 355,394.03 356,393.85 357,395.39 358,395.44 359,397.94 360,398.08 361,398.85 362,400.15 363,400.58 364,400.86 365,401.65 366,402.16 367,402.85 368,403.9 369,403.97 370,404.33 371,403.79 372,405.15 373,405.29 374,406.26 375,405.46 376,406.03 377,405.98 378,406.17 379,406.39 380,406.24 381,406.48 382,406.74 383,406.87 384,407.32 385,407.74 386,407.48 387,407.69 388,407.66 389,408.03 390,408.04 391,408.24 392,408.11 393,408.3 394,408.48 395,408.43 396,408.67 397,408.75 398,408.78 399,408.78 400,408.85 401,408.81 402,408.94 403,408.94 404,408.96 405,409 405,409" fill="#a3a3a3" stroke="#a3a3a3" stroke-width="0.4"/>
<polyline points="290,409 291.5,409 293,408.83 294.5,408.11 296,407.92 297.5,407.42 299,406.03 300.5,406.09 302,404.59 303.5,403.27 305,402.74 306.5,400.57 308,398.14 309.5,397.81 311,396.53 312.5,393.71 314,391.53 315.5,388.19 317,386.65 318.5,385.28 320,383.94 321.5,380.78 323,379.85 324.5,377.96 326,374.17 327.5,373.88 329,374.11 330.5,370.73 332,370.31 333.5,372.44 335,369.91 336.5,373.86 338,372.81 339.5,374.34 341,376.35 342.5,377.82 344,375.58 345.5,378.76 347,380.51 348.5,381.59 350,382.03 351.5,382.14 353,383.26 354.5,383.48 356,385.17 357.5,386.55 359,384.75 360.5,384.65 362,387.79 363.5,387.46 365,386.65 366.5,386.9 368,388.82 369.5,389.34 371,388.22 372.5,389.58 374,391.65 375.5,392.16 377,392.26 378.5,392.47 380,393.79 381.5,393.15 383,394.19 384.5,394.18 386,393.68 387.5,394.59 389,395.79 390.5,396.92 392,395.64 393.5,397.03 395,397.72 396.5,397.28 398,399.17 399.5,398.63 401,398.87 402.5,399.73 404,400.93 405.5,400.91 407,400.89 408.5,401.98 410,401.39 411.5,402.11 413,403.53 414.5,403.74 416,403.6 417.5,403.71 419,404.6 420.5,404.76 422,404.84 423.5,405.62 425,406.8 426.5,405.87 428,406.45 429.5,407.04 431,406.56 432.5,407.51 434,407.82 435.5,407.89 437,407.73 438.5,408.54 440,408.45 441.5,408.67 443,408.64 444.5,408.99 446,409 447.5,409 449,409 450.5,409 452,409 453.5,409 455,409 456.5,409 458,409 459.5,409 461,409 462.5,409 464,409 465.5,409 467,409 468.5,409 470,409 471.5,409 473,409 474.5,409 476,409 477.5,409 479,409 480.5,409 482,409 483.5,409 485,409 486.5,409 488,409 489.5,409 491,409 492.5,409 494,409 495.5,409 497,409 498.5,409 500,409 501.5,409 503,409 504.5,409 506,409 507.5,409 509,409 510.5,409 512,409 513.5,409" fill="none" stroke="#aaa" stroke-width="0.9" stroke-linejoin="round"/>
<polyline points="290,409 291.5,409 293,408.39 294.5,408.06 296,407.64 297.5,407.14 299,406.71 300.5,405.82 302,404.2 303.5,404.38 305,402.76 306.5,400.47 308,400.37 309.5,398.45 311,397.7 312.5,395.15 314,395.77 315.5,391.64 317,390.36 318.5,388.89 320,388.55 321.5,383.16 323,383.42 324.5,383.35 326,381.59 327.5,381.17 329,378.63 330.5,377.72 332,378.48 333.5,377.34 335,378.12 336.5,378.46 338,377.84 339.5,377.65 341,379.26 342.5,381.35 344,380.25 345.5,384.03 347,382 348.5,382.34 350,384.43 351.5,384.61 353,385.76 354.5,386.42 356,388.07 357.5,389.14 359,387.34 360.5,387.91 362,389.93 363.5,390.31 365,389.17 366.5,389.59 368,389.63 369.5,390.61 371,393.07 372.5,394.1 374,393.07 375.5,394.43 377,394.33 378.5,394.12 380,394.25 381.5,397.19 383,396.3 384.5,397.98 386,398.28 387.5,396.98 389,399.31 390.5,399.88 392,399.29 393.5,400.53 395,400.53 396.5,401.09 398,401.46 399.5,400.79 401,402.24 402.5,402.79 404,402.96 405.5,403.04 407,404.33 408.5,404.52 410,405.47 411.5,404.41 413,405.81 414.5,405.58 416,405.91 417.5,406.64 419,407.02 420.5,407.17 422,407.16 423.5,408.11 425,408.02 426.5,408.06 428,408.5 429.5,408.43 431,408.84 432.5,408.82 434,408.79 435.5,408.93 437,408.96 438.5,409 440,409 441.5,409 443,409 444.5,409 446,409 447.5,409 449,409 450.5,409 452,409 453.5,409 455,409 456.5,409 458,409 459.5,409 461,409 462.5,409 464,409 465.5,409 467,409 468.5,409 470,409 471.5,409 473,409 474.5,409 476,409 477.5,409 479,409 480.5,409 482,409 483.5,409 485,409 486.5,409 488,409 489.5,409 491,409 492.5,409 494,409 495.5,409 497,409 498.5,409 500,409 501.5,409 503,409 504.5,409 506,409 507.5,409 509,409 510.5,409 512,409 513.5,409" fill="none" stroke="#999" stroke-width="0.9" stroke-linejoin="round"/>
<polyline points="290,409 291.5,409 293,408.81 294.5,408.48 296,408.34 297.5,408.13 299,407.8 300.5,407.5 302,406.66 303.5,406.83 305,406.47 306.5,405.93 308,405.17 309.5,405.8 311,404.44 312.5,403.29 314,401.41 315.5,401.67 317,400.69 318.5,399.19 320,398.02 321.5,398.52 323,395.17 324.5,392.55 326,390.87 327.5,391.77 329,388.48 330.5,389.26 332,387.42 333.5,384.53 335,385.57 336.5,387.67 338,385.79 339.5,384.19 341,382.21 342.5,384.48 344,383.21 345.5,383.83 347,385.25 348.5,387.27 350,389.9 351.5,390.85 353,394.96 354.5,394.45 356,395.92 357.5,396.94 359,397.88 360.5,398.92 362,400.55 363.5,400.91 365,401.66 366.5,402.62 368,403.43 369.5,403.76 371,404.12 372.5,404.83 374,405.53 375.5,406.28 377,406.01 378.5,406.38 380,406.72 381.5,407.05 383,407.39 384.5,407.01 386,407.5 387.5,407.84 389,407.91 390.5,408.23 392,408.07 393.5,408.55 395,408.73 396.5,408.72 398,408.86 399.5,408.96 401,409 402.5,409 404,409 405.5,409 407,409 408.5,409 410,409 411.5,409 413,409 414.5,409 416,409 417.5,409 419,409 420.5,409 422,409 423.5,409 425,409 426.5,409 428,409 429.5,409 431,409 432.5,409 434,409 435.5,409 437,409 438.5,409 440,409 441.5,409 443,409 444.5,409 446,409 447.5,409 449,409 450.5,409 452,409 453.5,409 455,409 456.5,409 458,409 459.5,409 461,409 462.5,409 464,409 465.5,409 467,409 468.5,409 470,409 471.5,409 473,409 474.5,409 476,409 477.5,409 479,409 480.5,409 482,409 483.5,409 485,409 486.5,409 488,409 489.5,409 491,409 492.5,409 494,409 495.5,409 497,409 498.5,409 500,409 501.5,409 503,409 504.5,409 506,409 507.5,409 509,409 510.5,409 512,409 513.5,409" fill="none" stroke="#555" stroke-width="0.9" stroke-linejoin="round"/>
<polyline points="290,409 291.5,409 293,408.7 294.5,408.48 296,408 297.5,407.63 299,407.29 300.5,407.45 302,405.77 303.5,405.68 305,405.32 306.5,404.57 308,403.61 309.5,401.68 311,400.34 312.5,398.92 314,396.8 315.5,397.25 317,393.58 318.5,393.62 320,392.18 321.5,390.46 323,387.93 324.5,388.3 326,385.01 327.5,386.35 329,383.66 330.5,384.56 332,381.89 333.5,382.64 335,381.38 336.5,382.04 338,382.8 339.5,382.35 341,379.58 342.5,382.97 344,383.56 345.5,384.98 347,385.97 348.5,389.14 350,391.14 351.5,390.13 353,394.14 354.5,394.02 356,394.97 357.5,395.56 359,396.89 360.5,399.1 362,399.33 363.5,401.37 365,401.7 366.5,402.92 368,403.44 369.5,402.51 371,404.72 372.5,405.39 374,405.17 375.5,405.15 377,406.27 378.5,406.22 380,406.28 381.5,406.65 383,407.02 384.5,407.26 386,407.03 387.5,407.22 389,407.41 390.5,408.18 392,408.35 393.5,407.96 395,408.72 396.5,408.51 398,408.87 399.5,408.95 401,409 402.5,409 404,409 405.5,409 407,409 408.5,409 410,409 411.5,409 413,409 414.5,409 416,409 417.5,409 419,409 420.5,409 422,409 423.5,409 425,409 426.5,409 428,409 429.5,409 431,409 432.5,409 434,409 435.5,409 437,409 438.5,409 440,409 441.5,409 443,409 444.5,409 446,409 447.5,409 449,409 450.5,409 452,409 453.5,409 455,409 456.5,409 458,409 459.5,409 461,409 462.5,409 464,409 465.5,409 467,409 468.5,409 470,409 471.5,409 473,409 474.5,409 476,409 477.5,409 479,409 480.5,409 482,409 483.5,409 485,409 486.5,409 488,409 489.5,409 491,409 492.5,409 494,409 495.5,409 497,409 498.5,409 500,409 501.5,409 503,409 504.5,409 506,409 507.5,409 509,409 510.5,409 512,409 513.5,409" fill="none" stroke="#444" stroke-width="0.9" stroke-linejoin="round"/>
<polyline points="290,403.56 291.5,406.81 293,407.02 294.5,406.87 296,406.9 297.5,406.69 299,406.2 300.5,405.11 302,404.44 303.5,402.97 305,403.05 306.5,401.09 308,399.43 309.5,397.36 311,395.59 312.5,391.69 314,391.02 315.5,388.45 317,387.59 318.5,384.59 320,381.48 321.5,381.23 323,378.88 324.5,377.86 326,375.82 327.5,373.83 329,373.09 330.5,370.82 332,371.67 333.5,370.63 335,372.09 336.5,373.97 338,375.22 339.5,374.95 341,378.37 342.5,380.52 344,381.51 345.5,385.04 347,385.8 348.5,385.65 350,388.49 351.5,390.12 353,392.18 354.5,392.7 356,394.94 357.5,395.07 359,395.66 360.5,398.16 362,398.77 363.5,399.25 365,400.08 366.5,401.22 368,400.67 369.5,401.55 371,401.23 372.5,401.22 374,403.15 375.5,403.02 377,403.07 378.5,404.1 380,404.68 381.5,404.85 383,405.73 384.5,405.74 386,405.95 387.5,405.55 389,405.42 390.5,406.06 392,406.7 393.5,406.37 395,406.41 396.5,406.69 398,406.75 399.5,406.48 401,407.32 402.5,408.33 404,408.59 405.5,409 407,409 408.5,409 410,409 411.5,409 413,409 414.5,409 416,409 417.5,409 419,409 420.5,409 422,409 423.5,409 425,409 426.5,409 428,409 429.5,409 431,409 432.5,409 434,409 435.5,409 437,409 438.5,409 440,409 441.5,409 443,409 444.5,409 446,409 447.5,409 449,409 450.5,409 452,409 453.5,409 455,409 456.5,409 458,409 459.5,409 461,409 462.5,409 464,409 465.5,409 467,409 468.5,409 470,409 471.5,409 473,409 474.5,409 476,409 477.5,409 479,409 480.5,409 482,409 483.5,409 485,409 486.5,409 488,409 489.5,409 491,409 492.5,409 494,409 495.5,409 497,409 498.5,409 500,409 501.5,409 503,409 504.5,409 506,409 507.5,409 509,409 510.5,409 512,409 513.5,409" fill="none" stroke="#1a1a1a" stroke-width="0.9" stroke-linejoin="round"/>
<text x="313.7" y="367.5" font-size="9.4" stroke="#111" stroke-width="0.16" textLength="25" lengthAdjust="spacingAndGlyphs">VEGF</text>
<text x="340" y="370.4" font-size="8.6" stroke="#111" stroke-width="0.16" textLength="12.1" lengthAdjust="spacingAndGlyphs">165</text>
<text x="356" y="367.8" font-size="9.4" stroke="#111" stroke-width="0.16" textLength="15.3" lengthAdjust="spacingAndGlyphs">250</text>
<text x="374.2" y="367.8" font-size="9.4" stroke="#111" stroke-width="0.16" textLength="9.6" lengthAdjust="spacingAndGlyphs">25</text>
<text x="387.3" y="367.8" font-size="9.4" stroke="#111" stroke-width="0.16" textLength="5.2" lengthAdjust="spacingAndGlyphs">0</text>
<line x1="362.7" y1="369.7" x2="344.4" y2="374.7" stroke="#111" stroke-width="0.9"/>
<line x1="377.7" y1="369.7" x2="363.5" y2="386" stroke="#111" stroke-width="0.9"/>
<line x1="388.7" y1="369.7" x2="388.7" y2="394" stroke="#111" stroke-width="0.9"/>
<line x1="288.5" y1="428.6" x2="288.5" y2="471.7" stroke="#1a1a1a" stroke-width="1.6"/>
<line x1="286.1" y1="471.1" x2="288.5" y2="471.1" stroke="#222" stroke-width="0.8"/>
<line x1="286.8" y1="466.85" x2="288.5" y2="466.85" stroke="#222" stroke-width="0.8"/>
<line x1="286.8" y1="462.6" x2="288.5" y2="462.6" stroke="#222" stroke-width="0.8"/>
<line x1="286.8" y1="458.35" x2="288.5" y2="458.35" stroke="#222" stroke-width="0.8"/>
<line x1="286.8" y1="454.1" x2="288.5" y2="454.1" stroke="#222" stroke-width="0.8"/>
<line x1="286.8" y1="449.85" x2="288.5" y2="449.85" stroke="#222" stroke-width="0.8"/>
<line x1="286.8" y1="445.6" x2="288.5" y2="445.6" stroke="#222" stroke-width="0.8"/>
<line x1="286.8" y1="441.35" x2="288.5" y2="441.35" stroke="#222" stroke-width="0.8"/>
<line x1="286.8" y1="437.1" x2="288.5" y2="437.1" stroke="#222" stroke-width="0.8"/>
<line x1="286.8" y1="432.85" x2="288.5" y2="432.85" stroke="#222" stroke-width="0.8"/>
<line x1="286.1" y1="428.6" x2="288.5" y2="428.6" stroke="#222" stroke-width="0.8"/>
<line x1="287.9" y1="471.1" x2="513.5" y2="471.1" stroke="#1a1a1a" stroke-width="1.5"/>
<line x1="288.5" y1="471.1" x2="288.5" y2="473.7" stroke="#333" stroke-width="0.8"/>
<line x1="322.37" y1="471.1" x2="322.37" y2="472.7" stroke="#444" stroke-width="0.6"/>
<line x1="342.18" y1="471.1" x2="342.18" y2="472.7" stroke="#444" stroke-width="0.6"/>
<line x1="356.23" y1="471.1" x2="356.23" y2="472.7" stroke="#444" stroke-width="0.6"/>
<line x1="367.13" y1="471.1" x2="367.13" y2="472.7" stroke="#444" stroke-width="0.6"/>
<line x1="376.04" y1="471.1" x2="376.04" y2="472.7" stroke="#444" stroke-width="0.6"/>
<line x1="383.57" y1="471.1" x2="383.57" y2="472.7" stroke="#444" stroke-width="0.6"/>
<line x1="390.1" y1="471.1" x2="390.1" y2="472.7" stroke="#444" stroke-width="0.6"/>
<line x1="395.85" y1="471.1" x2="395.85" y2="472.7" stroke="#444" stroke-width="0.6"/>
<line x1="401" y1="471.1" x2="401" y2="473.7" stroke="#333" stroke-width="0.8"/>
<line x1="434.87" y1="471.1" x2="434.87" y2="472.7" stroke="#444" stroke-width="0.6"/>
<line x1="454.68" y1="471.1" x2="454.68" y2="472.7" stroke="#444" stroke-width="0.6"/>
<line x1="468.73" y1="471.1" x2="468.73" y2="472.7" stroke="#444" stroke-width="0.6"/>
<line x1="479.63" y1="471.1" x2="479.63" y2="472.7" stroke="#444" stroke-width="0.6"/>
<line x1="488.54" y1="471.1" x2="488.54" y2="472.7" stroke="#444" stroke-width="0.6"/>
<line x1="496.07" y1="471.1" x2="496.07" y2="472.7" stroke="#444" stroke-width="0.6"/>
<line x1="502.6" y1="471.1" x2="502.6" y2="472.7" stroke="#444" stroke-width="0.6"/>
<line x1="508.35" y1="471.1" x2="508.35" y2="472.7" stroke="#444" stroke-width="0.6"/>
<line x1="513.5" y1="471.1" x2="513.5" y2="473.7" stroke="#333" stroke-width="0.8"/>
<text x="283.3" y="480.8" font-size="7.2" fill="#222" textLength="6.2" lengthAdjust="spacingAndGlyphs">10</text>
<text x="290.1" y="477.3" font-size="6.2" fill="#222" textLength="2.8" lengthAdjust="spacingAndGlyphs">0</text>
<text x="395.8" y="480.8" font-size="7.2" fill="#222" textLength="6.2" lengthAdjust="spacingAndGlyphs">10</text>
<text x="402.6" y="477.3" font-size="6.2" fill="#222" textLength="2.8" lengthAdjust="spacingAndGlyphs">1</text>
<text x="508.3" y="480.8" font-size="7.2" fill="#222" textLength="6.2" lengthAdjust="spacingAndGlyphs">10</text>
<text x="515.1" y="477.3" font-size="6.2" fill="#222" textLength="2.8" lengthAdjust="spacingAndGlyphs">2</text>
<text x="283.9" y="471.1" font-size="6.2" text-anchor="middle" transform="rotate(-90 283.9 471.1)">0</text>
<text x="283.9" y="428.6" font-size="6.2" text-anchor="middle" textLength="8.8" lengthAdjust="spacingAndGlyphs" transform="rotate(-90 283.9 428.6)">300</text>
<text x="276.7" y="451.35" font-size="6.3" text-anchor="middle" textLength="19" lengthAdjust="spacingAndGlyphs" transform="rotate(-90 276.7 451.35)">Counts</text>
<text x="373" y="490.7" font-size="9.0" stroke="#111" stroke-width="0.16" textLength="36" lengthAdjust="spacingAndGlyphs">Sema3A</text>
<line x1="410" y1="487.7" x2="429" y2="487.7" stroke="#111" stroke-width="1.5"/>
<polygon points="426.2,484.8 436.3,487.7 426.2,490.6 427.2,487.7" fill="#111"/>
<polygon points="288.6,471.1 288.6,471.1 289.6,463.29 290.6,467.04 291.6,469.41 292.6,469.08 293.6,469.62 294.6,469.59 295.6,469.22 296.6,469.47 297.6,469.26 298.6,469.6 299.6,469.59 300.6,469.62 301.6,468.39 302.6,468.36 303.6,467.25 304.6,466.66 305.6,466.59 306.6,464.52 307.6,463.8 308.6,463.15 309.6,461.18 310.6,459.33 311.6,458.82 312.6,456.94 313.6,454.58 314.6,454.34 315.6,452.74 316.6,450.67 317.6,449.2 318.6,446.1 319.6,444.5 320.6,442.49 321.6,442.58 322.6,438.82 323.6,438.63 324.6,437.61 325.6,435.01 326.6,433.65 327.6,433.29 328.6,432.74 329.6,432.96 330.6,431.86 331.6,431.18 332.6,430.24 333.6,432.8 334.6,433.55 335.6,434.33 336.6,435.81 337.6,436.95 338.6,436.28 339.6,438.34 340.6,439.72 341.6,438.96 342.6,439.74 343.6,441.31 344.6,442.13 345.6,443.56 346.6,447.09 347.6,447.47 348.6,446.8 349.6,448.62 350.6,451.86 351.6,451.27 352.6,453.51 353.6,453.32 354.6,455.16 355.6,455.97 356.6,456.74 357.6,457.87 358.6,457.86 359.6,459.11 360.6,459.88 361.6,461.25 362.6,460.99 363.6,461.08 364.6,462.8 365.6,462.53 366.6,462.88 367.6,463.72 368.6,464.34 369.6,464.44 370.6,465.01 371.6,465.52 372.6,466.08 373.6,465.52 374.6,466.31 375.6,466.59 376.6,466.56 377.6,467.11 378.6,467.02 379.6,467.82 380.6,467.94 381.6,467.77 382.6,467.7 383.6,467.79 384.6,468.35 385.6,468.86 386.6,468.56 387.6,469.23 388.6,469.93 389.6,469.48 390.6,469.66 391.6,469.74 392.6,470.43 393.6,470 394.6,470.39 395.6,470.29 396.6,470.44 397.6,470.56 398.6,470.49 399.6,470.69 400.6,470.75 401.6,470.91 402.6,471.05 403.6,471.03 404.6,471.08 405,471.1" fill="#a3a3a3" stroke="#a3a3a3" stroke-width="0.4"/>
<polyline points="290,471.1 291.5,470.69 293,469.82 294.5,469.76 296,468.78 297.5,469.31 299,469.64 300.5,469.61 302,468.83 303.5,468.94 305,469.21 306.5,468.35 308,468.2 309.5,467.72 311,467.94 312.5,467.86 314,466.58 315.5,466.22 317,465.56 318.5,465.13 320,464.93 321.5,464.35 323,460.64 324.5,461.06 326,458.96 327.5,456.53 329,455.34 330.5,455.01 332,452.81 333.5,450.42 335,450.97 336.5,451.22 338,448.93 339.5,450.11 341,445.84 342.5,447.64 344,447.97 345.5,449.55 347,446.33 348.5,447.58 350,448.02 351.5,447.92 353,450.17 354.5,450.56 356,449.88 357.5,450.99 359,450.44 360.5,452.82 362,453.06 363.5,453.52 365,453.02 366.5,454.21 368,455.73 369.5,453.68 371,455.04 372.5,455.08 374,458.72 375.5,456.45 377,459.05 378.5,458.45 380,458.94 381.5,458.19 383,459.07 384.5,459.06 386,460.17 387.5,460.04 389,459.97 390.5,459.03 392,460.98 393.5,460.76 395,461.69 396.5,461.35 398,461.54 399.5,462.69 401,462.29 402.5,463.11 404,464.12 405.5,463.8 407,464.45 408.5,465.75 410,464.72 411.5,466.52 413,466.28 414.5,466.4 416,467.71 417.5,467.62 419,467.99 420.5,468.09 422,468.78 423.5,469.16 425,469.28 426.5,469.75 428,469.72 429.5,469.74 431,469.82 432.5,470.38 434,470.63 435.5,470.36 437,470.99 438.5,470.75 440,470.89 441.5,471.05 443,471 444.5,471.05 446,471.1 447.5,471.1 449,471.1 450.5,471.1 452,471.1 453.5,471.1 455,471.1 456.5,471.1 458,471.1 459.5,471.1 461,471.1 462.5,471.1 464,471.1 465.5,471.1 467,471.1 468.5,471.1 470,471.1 471.5,471.1 473,471.1 474.5,471.1 476,471.1 477.5,471.1 479,471.1 480.5,471.1 482,471.1 483.5,471.1 485,471.1 486.5,471.1 488,471.1 489.5,471.1 491,471.1 492.5,471.1 494,471.1 495.5,471.1 497,471.1 498.5,471.1 500,471.1 501.5,471.1 503,471.1 504.5,471.1 506,471.1 507.5,471.1 509,471.1 510.5,471.1 512,471.1 513.5,471.1" fill="none" stroke="#8a8a8a" stroke-width="0.9" stroke-linejoin="round"/>
<polyline points="290,471.1 291.5,470.04 293,469.64 294.5,469.55 296,469.2 297.5,469.09 299,469.1 300.5,469.24 302,468.95 303.5,468.68 305,468.82 306.5,468.66 308,468 309.5,467.98 311,467.6 312.5,467.36 314,466.63 315.5,466.29 317,465.62 318.5,465.01 320,463.16 321.5,462.21 323,461.15 324.5,458.68 326,456.94 327.5,454.74 329,454.62 330.5,453.88 332,452.14 333.5,449.74 335,450.82 336.5,449.32 338,445.98 339.5,446.67 341,445.33 342.5,448.3 344,446.57 345.5,446.63 347,445.48 348.5,446.73 350,448.59 351.5,448.68 353,450.28 354.5,450.85 356,452.2 357.5,452.3 359,451.14 360.5,451.75 362,451.74 363.5,452.26 365,453.29 366.5,452.44 368,455.63 369.5,454.8 371,455.55 372.5,456.07 374,455.38 375.5,455.67 377,456.43 378.5,457.81 380,457.83 381.5,457.75 383,457.93 384.5,458.67 386,459.02 387.5,459.6 389,459.22 390.5,461.09 392,460.55 393.5,459.86 395,461.53 396.5,459.68 398,461.83 399.5,462.45 401,462.88 402.5,463.37 404,463.42 405.5,463.32 407,464.43 408.5,464.86 410,465.47 411.5,465.59 413,466.07 414.5,466.81 416,466.89 417.5,467.78 419,467.74 420.5,468.61 422,468.69 423.5,468.77 425,469.19 426.5,469.29 428,469.6 429.5,469.66 431,470.11 432.5,470.03 434,470.33 435.5,470.95 437,470.48 438.5,470.8 440,470.76 441.5,470.94 443,471.06 444.5,471.08 446,471.1 447.5,471.1 449,471.1 450.5,471.1 452,471.1 453.5,471.1 455,471.1 456.5,471.1 458,471.1 459.5,471.1 461,471.1 462.5,471.1 464,471.1 465.5,471.1 467,471.1 468.5,471.1 470,471.1 471.5,471.1 473,471.1 474.5,471.1 476,471.1 477.5,471.1 479,471.1 480.5,471.1 482,471.1 483.5,471.1 485,471.1 486.5,471.1 488,471.1 489.5,471.1 491,471.1 492.5,471.1 494,471.1 495.5,471.1 497,471.1 498.5,471.1 500,471.1 501.5,471.1 503,471.1 504.5,471.1 506,471.1 507.5,471.1 509,471.1 510.5,471.1 512,471.1 513.5,471.1" fill="none" stroke="#111" stroke-width="0.9" stroke-linejoin="round"/>
<text x="323.7" y="430.1" font-size="9.4" stroke="#111" stroke-width="0.16" textLength="25.5" lengthAdjust="spacingAndGlyphs">VEGF</text>
<text x="350.6" y="432.8" font-size="8.6" stroke="#111" stroke-width="0.16" textLength="11.5" lengthAdjust="spacingAndGlyphs">121</text>
<text x="366" y="430.4" font-size="9.4" stroke="#111" stroke-width="0.16" textLength="15.3" lengthAdjust="spacingAndGlyphs">250</text>
<text x="384.2" y="430.4" font-size="9.4" stroke="#111" stroke-width="0.16" textLength="4.8" lengthAdjust="spacingAndGlyphs">0</text>
<line x1="373.7" y1="432.3" x2="373.7" y2="455.8" stroke="#111" stroke-width="0.9"/>
<line x1="386.7" y1="432.3" x2="386.7" y2="457" stroke="#111" stroke-width="0.9"/>
</svg></body></html>
